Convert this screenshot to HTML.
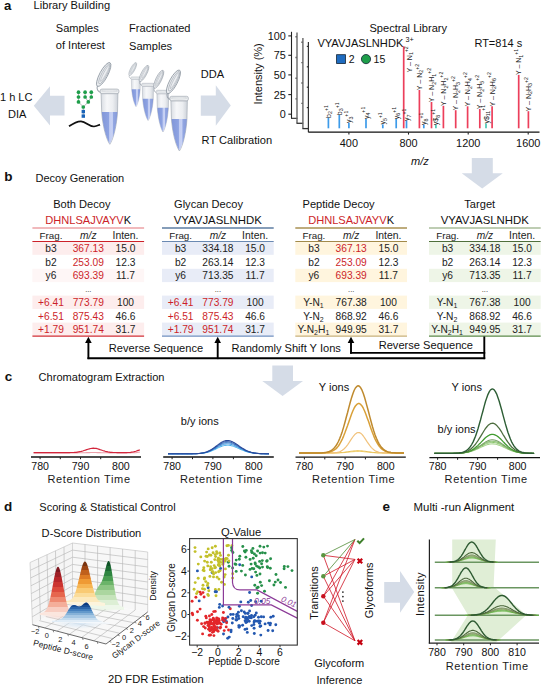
<!DOCTYPE html>
<html><head><meta charset="utf-8"><style>
html,body{margin:0;padding:0;background:#fff;}
svg{display:block;font-family:"Liberation Sans", sans-serif;}
</style></head><body>
<svg width="541" height="685" viewBox="0 0 541 685">
<rect width="541" height="685" fill="#fff"/>
<text x="3.9" y="9.6" font-size="13.2" text-anchor="start" fill="#111" font-weight="bold" font-style="normal" >a</text>
<text x="33.6" y="9.0" font-size="11.1" text-anchor="start" fill="#111" font-weight="normal" font-style="normal" >Library Building</text>
<text x="55.8" y="32.3" font-size="11.05" text-anchor="start" fill="#111" font-weight="normal" font-style="normal" >Samples</text>
<text x="55.8" y="49.4" font-size="11.05" text-anchor="start" fill="#111" font-weight="normal" font-style="normal" >of Interest</text>
<text x="129.1" y="32.3" font-size="11.05" text-anchor="start" fill="#111" font-weight="normal" font-style="normal" >Fractionated</text>
<text x="129.1" y="49.6" font-size="11.05" text-anchor="start" fill="#111" font-weight="normal" font-style="normal" >Samples</text>
<text x="200.8" y="78.0" font-size="11.05" text-anchor="start" fill="#111" font-weight="normal" font-style="normal" >DDA</text>
<text x="201.6" y="144.2" font-size="11.1" text-anchor="start" fill="#111" font-weight="normal" font-style="normal" >RT Calibration</text>
<text x="32.5" y="100.5" font-size="11.05" text-anchor="end" fill="#111" font-weight="normal" font-style="normal" >1 h LC</text>
<text x="26.4" y="117.5" font-size="11.05" text-anchor="end" fill="#111" font-weight="normal" font-style="normal" >DIA</text>
<polygon points="64.5,95.7 50.0,95.7 50.0,86.2 33.8,105.8 50.0,125.5 50.0,115.4 64.5,115.4" fill="#d5dce7" />
<polygon points="200.8,95.5 215.8,95.5 215.8,85.3 230.8,105.5 215.8,125.8 215.8,115.7 200.8,115.7" fill="#d5dce7" />
<line x1="78.5" y1="92.2" x2="78.5" y2="101.9" stroke="#888" stroke-width="0.6" />
<line x1="85.1" y1="92.2" x2="85.1" y2="97.0" stroke="#888" stroke-width="0.6" />
<line x1="91.3" y1="92.2" x2="91.3" y2="97.0" stroke="#888" stroke-width="0.6" />
<line x1="85.1" y1="97.0" x2="88.3" y2="101.9" stroke="#888" stroke-width="0.6" />
<line x1="91.3" y1="97.0" x2="88.3" y2="101.9" stroke="#888" stroke-width="0.6" />
<line x1="78.5" y1="101.9" x2="83.3" y2="107.0" stroke="#888" stroke-width="0.6" />
<line x1="88.3" y1="101.9" x2="83.3" y2="107.0" stroke="#888" stroke-width="0.6" />
<line x1="83.3" y1="107.0" x2="83.3" y2="116.0" stroke="#888" stroke-width="0.6" />
<circle cx="78.5" cy="92.2" r="1.85" fill="#1e9e4a"/>
<circle cx="85.1" cy="92.2" r="1.85" fill="#1e9e4a"/>
<circle cx="91.3" cy="92.2" r="1.85" fill="#1e9e4a"/>
<circle cx="78.5" cy="97.0" r="1.85" fill="#1e9e4a"/>
<circle cx="85.1" cy="97.0" r="1.85" fill="#1e9e4a"/>
<circle cx="91.3" cy="97.0" r="1.85" fill="#1e9e4a"/>
<circle cx="78.5" cy="101.9" r="1.85" fill="#1e9e4a"/>
<circle cx="88.3" cy="101.9" r="1.85" fill="#1e9e4a"/>
<circle cx="83.3" cy="107.0" r="1.85" fill="#1e9e4a"/>
<rect x="81.6" y="109.9" width="3.4" height="3.4" fill="#1a64b8" />
<rect x="81.6" y="114.4" width="3.4" height="3.4" fill="#1a64b8" />
<path d="M69,126.3 C73,123.5 77,121.2 81,121.3 C86,121.5 89,126.6 94,126.5 C96.5,126.4 98.5,125.2 100,124.6" fill="none" stroke="#111" stroke-width="1.7"/>
<defs>
<linearGradient id="tb" x1="0" x2="1" y1="0" y2="0"><stop offset="0" stop-color="#d9dde3"/><stop offset="0.35" stop-color="#f6f7f9"/><stop offset="0.7" stop-color="#eceef1"/><stop offset="1" stop-color="#cdd2d9"/></linearGradient>
<linearGradient id="tl" x1="0" x2="1" y1="0" y2="0"><stop offset="0" stop-color="#8196d8"/><stop offset="0.45" stop-color="#8ea3e2"/><stop offset="0.5" stop-color="#c2cdf3"/><stop offset="0.68" stop-color="#c8d2f4"/><stop offset="0.74" stop-color="#93a7e2"/><stop offset="1" stop-color="#8599d8"/></linearGradient>
<g id="tube">
<path d="M1.2,3.5 C-2.5,2.5 -3.8,0 -2.6,-3.5" fill="none" stroke="#a0a7b0" stroke-width="1.1"/>
<ellipse cx="3.6" cy="-14.6" rx="13.4" ry="4.0" transform="rotate(-62 3.6 -14.6)" fill="#eceef1" stroke="#8f98a2" stroke-width="0.8"/>
<ellipse cx="4.3" cy="-15.2" rx="11.2" ry="2.6" transform="rotate(-62 4.3 -15.2)" fill="none" stroke="#9ea6af" stroke-width="0.6"/>
<ellipse cx="4.9" cy="-15.8" rx="9.2" ry="1.3" transform="rotate(-62 4.9 -15.8)" fill="none" stroke="#a6adb5" stroke-width="0.5"/>
<path d="M1,4.4 L1.6,23 C2.5,36 6,50 9.7,55.2 C13.4,50 16.6,36 17.4,23 L17.8,4.4 Z" fill="url(#tb)" stroke="#a3aab3" stroke-width="0.7"/>
<path d="M1.7,23 L17.3,23 C16.5,36 13.3,49.8 9.7,54.8 C6.1,49.8 2.6,36 1.7,23 Z" fill="url(#tl)"/>
<rect x="0" y="0" width="18.8" height="4.6" rx="1.8" fill="#eef0f2" stroke="#9fa6af" stroke-width="0.7"/>
<ellipse cx="9.4" cy="1.8" rx="8.2" ry="1.0" fill="none" stroke="#c4c9cf" stroke-width="0.5"/>
</g></defs>
<use href="#tube" transform="translate(100.1,89.1) scale(1.0,1.0)"/>
<use href="#tube" transform="translate(130.8,76.9) scale(0.54,0.54)"/>
<use href="#tube" transform="translate(141.6,83.3) scale(0.67,0.675)"/>
<use href="#tube" transform="translate(156.2,90.3) scale(0.7,0.755)"/>
<use href="#tube" transform="translate(169.9,96.3) scale(0.98,0.99)"/>
<line x1="291.5" y1="31.8" x2="291.5" y2="118.3" stroke="#222" stroke-width="1.1" />
<line x1="288.3" y1="35.9" x2="291.5" y2="35.9" stroke="#222" stroke-width="1.1" />
<line x1="288.3" y1="55.3" x2="291.5" y2="55.3" stroke="#222" stroke-width="1.1" />
<line x1="288.3" y1="74.9" x2="291.5" y2="74.9" stroke="#222" stroke-width="1.1" />
<line x1="288.3" y1="94.6" x2="291.5" y2="94.6" stroke="#222" stroke-width="1.1" />
<line x1="288.3" y1="114.2" x2="291.5" y2="114.2" stroke="#222" stroke-width="1.1" />
<line x1="291.0" y1="118.3" x2="297.5" y2="118.3" stroke="#222" stroke-width="1.1" />
<text x="285.7" y="39.8" font-size="10.8" text-anchor="end" fill="#111" font-weight="normal" font-style="normal" >100</text>
<text x="285.7" y="59.2" font-size="10.8" text-anchor="end" fill="#111" font-weight="normal" font-style="normal" >75</text>
<text x="285.7" y="78.8" font-size="10.8" text-anchor="end" fill="#111" font-weight="normal" font-style="normal" >50</text>
<text x="285.7" y="98.5" font-size="10.8" text-anchor="end" fill="#111" font-weight="normal" font-style="normal" >25</text>
<text x="285.7" y="118.1" font-size="10.8" text-anchor="end" fill="#111" font-weight="normal" font-style="normal" >0</text>
<line x1="297.0" y1="32.4" x2="297.0" y2="123.3" stroke="#666" stroke-width="1.4" />
<line x1="295.4" y1="36.8" x2="297.0" y2="36.8" stroke="#666" stroke-width="1.4" />
<line x1="295.4" y1="57.5" x2="297.0" y2="57.5" stroke="#666" stroke-width="1.4" />
<line x1="295.4" y1="78.2" x2="297.0" y2="78.2" stroke="#666" stroke-width="1.4" />
<line x1="295.4" y1="98.9" x2="297.0" y2="98.9" stroke="#666" stroke-width="1.4" />
<line x1="296.5" y1="123.3" x2="303.2" y2="123.3" stroke="#333" stroke-width="1.3" />
<line x1="302.9" y1="37.9" x2="302.9" y2="128.6" stroke="#666" stroke-width="1.4" />
<line x1="301.3" y1="42.2" x2="302.9" y2="42.2" stroke="#666" stroke-width="1.4" />
<line x1="301.3" y1="62.6" x2="302.9" y2="62.6" stroke="#666" stroke-width="1.4" />
<line x1="301.3" y1="83.0" x2="302.9" y2="83.0" stroke="#666" stroke-width="1.4" />
<line x1="301.3" y1="103.4" x2="302.9" y2="103.4" stroke="#666" stroke-width="1.4" />
<line x1="302.4" y1="128.6" x2="308.8" y2="128.6" stroke="#333" stroke-width="1.3" />
<line x1="308.4" y1="42.0" x2="308.4" y2="132.2" stroke="#333" stroke-width="1.2" />
<line x1="306.8" y1="46.4" x2="308.4" y2="46.4" stroke="#333" stroke-width="1.2" />
<line x1="306.8" y1="66.8" x2="308.4" y2="66.8" stroke="#333" stroke-width="1.2" />
<line x1="306.8" y1="87.2" x2="308.4" y2="87.2" stroke="#333" stroke-width="1.2" />
<line x1="306.8" y1="107.6" x2="308.4" y2="107.6" stroke="#333" stroke-width="1.2" />
<line x1="308.4" y1="132.2" x2="539.5" y2="132.2" stroke="#111" stroke-width="1.2" />
<line x1="348.9" y1="132.2" x2="348.9" y2="134.6" stroke="#222" stroke-width="1.1" />
<text x="348.9" y="146.6" font-size="10.9" text-anchor="middle" fill="#111" font-weight="normal" font-style="normal" >400</text>
<line x1="408.5" y1="132.2" x2="408.5" y2="134.6" stroke="#222" stroke-width="1.1" />
<text x="408.5" y="146.6" font-size="10.9" text-anchor="middle" fill="#111" font-weight="normal" font-style="normal" >800</text>
<line x1="468.2" y1="132.2" x2="468.2" y2="134.6" stroke="#222" stroke-width="1.1" />
<text x="468.2" y="146.6" font-size="10.9" text-anchor="middle" fill="#111" font-weight="normal" font-style="normal" >1200</text>
<line x1="528.2" y1="132.2" x2="528.2" y2="134.6" stroke="#222" stroke-width="1.1" />
<text x="528.2" y="146.6" font-size="10.9" text-anchor="middle" fill="#111" font-weight="normal" font-style="normal" >1600</text>
<text x="411.0" y="165.0" font-size="11" text-anchor="start" fill="#111" font-weight="normal" font-style="italic" >m/z</text>
<text x="261.8" y="73.8" font-size="11" text-anchor="middle" fill="#111" font-weight="normal" font-style="normal" transform="rotate(-90 261.8 73.8)">Intensity (%)</text>
<text x="369.4" y="32.3" font-size="11.1" text-anchor="start" fill="#111" font-weight="normal" font-style="normal" >Spectral Library</text>
<text x="317.4" y="47.0" font-size="11.1" text-anchor="start" fill="#111" font-weight="normal" font-style="normal" >VYAVJASLNHDK</text>
<text x="405.5" y="41.5" font-size="7.2" text-anchor="start" fill="#111" font-weight="normal" font-style="normal" >3+</text>
<text x="474.4" y="47.2" font-size="11.0" text-anchor="start" fill="#111" font-weight="normal" font-style="normal" >RT=814 s</text>
<rect x="336.6" y="54.7" width="8.8" height="8.8" fill="#1f6cc0" stroke="#123" stroke-width="0.8"/>
<text x="348.8" y="62.9" font-size="10.5" text-anchor="start" fill="#111" font-weight="normal" font-style="normal" >2</text>
<circle cx="366.0" cy="59.1" r="4.6" fill="#1e9e4a" stroke="#123" stroke-width="0.8"/>
<text x="373.6" y="62.9" font-size="10.5" text-anchor="start" fill="#111" font-weight="normal" font-style="normal" >15</text>
<line x1="328.4" y1="117.7" x2="328.4" y2="128.3" stroke="#3d9be9" stroke-width="1.7" />
<line x1="339.3" y1="115.0" x2="339.3" y2="128.3" stroke="#3d9be9" stroke-width="1.7" />
<line x1="348.9" y1="122.9" x2="348.9" y2="128.3" stroke="#3d9be9" stroke-width="1.7" />
<line x1="366.0" y1="118.9" x2="366.0" y2="128.3" stroke="#3d9be9" stroke-width="1.7" />
<line x1="382.8" y1="124.4" x2="382.8" y2="128.3" stroke="#3d9be9" stroke-width="1.7" />
<line x1="396.2" y1="119.0" x2="396.2" y2="128.3" stroke="#3d9be9" stroke-width="1.7" />
<line x1="406.5" y1="120.7" x2="406.5" y2="128.3" stroke="#3d9be9" stroke-width="1.7" />
<line x1="423.8" y1="124.7" x2="423.8" y2="128.3" stroke="#3d9be9" stroke-width="1.7" />
<line x1="435.9" y1="125.0" x2="435.9" y2="128.3" stroke="#4cc9b6" stroke-width="1.7" />
<line x1="486.0" y1="123.4" x2="486.0" y2="128.3" stroke="#4cc9b6" stroke-width="1.7" />
<line x1="403.7" y1="46.3" x2="403.7" y2="128.3" stroke="#ec3f5b" stroke-width="1.7" />
<line x1="419.4" y1="90.0" x2="419.4" y2="128.3" stroke="#ec3f5b" stroke-width="1.7" />
<line x1="431.5" y1="102.0" x2="431.5" y2="128.3" stroke="#ec3f5b" stroke-width="1.7" />
<line x1="443.4" y1="105.8" x2="443.4" y2="128.3" stroke="#ec3f5b" stroke-width="1.7" />
<line x1="455.7" y1="110.2" x2="455.7" y2="128.3" stroke="#ec3f5b" stroke-width="1.7" />
<line x1="467.6" y1="106.3" x2="467.6" y2="128.3" stroke="#ec3f5b" stroke-width="1.7" />
<line x1="479.8" y1="109.0" x2="479.8" y2="128.3" stroke="#ec3f5b" stroke-width="1.7" />
<line x1="492.1" y1="106.3" x2="492.1" y2="128.3" stroke="#ec3f5b" stroke-width="1.7" />
<line x1="518.7" y1="74.9" x2="518.7" y2="128.3" stroke="#ec3f5b" stroke-width="1.7" />
<line x1="528.4" y1="111.2" x2="528.4" y2="128.3" stroke="#ec3f5b" stroke-width="1.7" />
<text x="331.0" y="117.9" font-size="7" fill="#222" transform="rotate(-90 331.0 117.9)">b<tspan font-size="5.3" dy="1.5">2</tspan><tspan font-size="5.2" dy="-4.7">+1</tspan></text>
<text x="341.9" y="115.2" font-size="7" fill="#222" transform="rotate(-90 341.9 115.2)">b<tspan font-size="5.3" dy="1.5">3</tspan><tspan font-size="5.2" dy="-4.7">+1</tspan></text>
<text x="351.5" y="123.1" font-size="7" fill="#222" transform="rotate(-90 351.5 123.1)">y<tspan font-size="5.3" dy="1.5">3</tspan><tspan font-size="5.2" dy="-4.7">+1</tspan></text>
<text x="368.6" y="119.1" font-size="7" fill="#222" transform="rotate(-90 368.6 119.1)">y<tspan font-size="5.3" dy="1.5">4</tspan><tspan font-size="5.2" dy="-4.7">+1</tspan></text>
<text x="385.4" y="124.6" font-size="7" fill="#222" transform="rotate(-90 385.4 124.6)">y<tspan font-size="5.3" dy="1.5">5</tspan><tspan font-size="5.2" dy="-4.7">+1</tspan></text>
<text x="398.8" y="119.2" font-size="7" fill="#222" transform="rotate(-90 398.8 119.2)">y<tspan font-size="5.3" dy="1.5">6</tspan><tspan font-size="5.2" dy="-4.7">+1</tspan></text>
<text x="409.1" y="120.9" font-size="7" fill="#222" transform="rotate(-90 409.1 120.9)">y<tspan font-size="5.3" dy="1.5">7</tspan><tspan font-size="5.2" dy="-4.7">+1</tspan></text>
<text x="426.4" y="124.9" font-size="7" fill="#222" transform="rotate(-90 426.4 124.9)">y<tspan font-size="5.3" dy="1.5">8</tspan><tspan font-size="5.2" dy="-4.7">+1</tspan></text>
<text x="438.5" y="125.2" font-size="7" fill="#222" transform="rotate(-90 438.5 125.2)">y$<tspan font-size="5.3" dy="1.5">8</tspan><tspan font-size="5.2" dy="-4.7">+1</tspan></text>
<text x="488.6" y="123.6" font-size="7" fill="#222" transform="rotate(-90 488.6 123.6)">y$<tspan font-size="5.3" dy="1.5">11</tspan><tspan font-size="5.2" dy="-4.7">+1</tspan></text>
<text x="411.6" y="72.5" font-size="7" fill="#222" transform="rotate(-90 411.6 72.5)">Y – N<tspan font-size="5.3" dy="1.5">1</tspan><tspan font-size="5.2" dy="-4.7">+2</tspan></text>
<text x="422.0" y="90.2" font-size="7" fill="#222" transform="rotate(-90 422.0 90.2)">Y – N<tspan font-size="5.3" dy="1.5">2</tspan><tspan font-size="5.2" dy="-4.7">+2</tspan></text>
<text x="434.1" y="102.2" font-size="7" fill="#222" transform="rotate(-90 434.1 102.2)">Y – N<tspan font-size="5.3" dy="1.5">2</tspan><tspan dy="-1.5">H</tspan><tspan font-size="5.3" dy="1.5">1</tspan><tspan font-size="5.2" dy="-4.7">+2</tspan></text>
<text x="446.0" y="106.0" font-size="7" fill="#222" transform="rotate(-90 446.0 106.0)">Y – N<tspan font-size="5.3" dy="1.5">2</tspan><tspan dy="-1.5">H</tspan><tspan font-size="5.3" dy="1.5">2</tspan><tspan font-size="5.2" dy="-4.7">+2</tspan></text>
<text x="458.3" y="110.4" font-size="7" fill="#222" transform="rotate(-90 458.3 110.4)">Y – N<tspan font-size="5.3" dy="1.5">2</tspan><tspan dy="-1.5">H</tspan><tspan font-size="5.3" dy="1.5">3</tspan><tspan font-size="5.2" dy="-4.7">+2</tspan></text>
<text x="470.2" y="106.5" font-size="7" fill="#222" transform="rotate(-90 470.2 106.5)">Y – N<tspan font-size="5.3" dy="1.5">2</tspan><tspan dy="-1.5">H</tspan><tspan font-size="5.3" dy="1.5">4</tspan><tspan font-size="5.2" dy="-4.7">+2</tspan></text>
<text x="482.4" y="109.2" font-size="7" fill="#222" transform="rotate(-90 482.4 109.2)">Y – N<tspan font-size="5.3" dy="1.5">2</tspan><tspan dy="-1.5">H</tspan><tspan font-size="5.3" dy="1.5">5</tspan><tspan font-size="5.2" dy="-4.7">+2</tspan></text>
<text x="494.7" y="106.5" font-size="7" fill="#222" transform="rotate(-90 494.7 106.5)">Y – N<tspan font-size="5.3" dy="1.5">2</tspan><tspan dy="-1.5">H</tspan><tspan font-size="5.3" dy="1.5">6</tspan><tspan font-size="5.2" dy="-4.7">+2</tspan></text>
<text x="521.3" y="75.1" font-size="7" fill="#222" transform="rotate(-90 521.3 75.1)">Y – N<tspan font-size="5.3" dy="1.5">1</tspan><tspan font-size="5.2" dy="-4.7">+1</tspan></text>
<text x="531.0" y="111.4" font-size="7" fill="#222" transform="rotate(-90 531.0 111.4)">Y – N<tspan font-size="5.3" dy="1.5">2</tspan><tspan dy="-1.5">H</tspan><tspan font-size="5.3" dy="1.5">3</tspan><tspan font-size="5.2" dy="-4.7">+2</tspan></text>
<polygon points="471.8,158.0 492.8,158.0 492.8,173.3 502.8,173.3 482.2,188.5 461.7,173.3 471.8,173.3" fill="#d5dce7" />
<text x="4.2" y="181.3" font-size="13.5" text-anchor="start" fill="#111" font-weight="bold" font-style="normal" >b</text>
<text x="35.5" y="181.8" font-size="11" text-anchor="start" fill="#111" font-weight="normal" font-style="normal" >Decoy Generation</text>
<text x="53.2" y="208.4" font-size="11.1" text-anchor="start" fill="#111" font-weight="normal" font-style="normal" >Both Decoy</text>
<text x="88.2" y="223.6" font-size="11.1" text-anchor="middle"><tspan fill="#cc1f2a">DHNLSAJVAYV</tspan><tspan fill="#111">K</tspan></text>
<rect x="32.4" y="242.1" width="111.7" height="12.7" fill="#fdeded" />
<rect x="32.4" y="268.8" width="111.7" height="13.3" fill="#fef6f6" />
<rect x="32.4" y="295.6" width="111.7" height="13.3" fill="#fdeded" />
<rect x="32.4" y="322.6" width="111.7" height="13.2" fill="#fdeded" />
<line x1="32.4" y1="228.0" x2="144.1" y2="228.0" stroke="#eca2a6" stroke-width="1.4" />
<line x1="32.4" y1="241.5" x2="144.1" y2="241.5" stroke="#cc2129" stroke-width="1.1" />
<line x1="32.4" y1="336.1" x2="144.1" y2="336.1" stroke="#d22f36" stroke-width="1.2" />
<text x="51.0" y="238.5" font-size="9.8" text-anchor="middle" fill="#222" font-weight="normal" font-style="normal" >Frag.</text>
<text x="88.3" y="238.5" font-size="10.2" text-anchor="middle" fill="#222" font-weight="normal" font-style="italic" >m/z</text>
<text x="125.5" y="238.5" font-size="10.4" text-anchor="middle" fill="#222" font-weight="normal" font-style="normal" >Inten.</text>
<text x="51.0" y="252.0" font-size="10.2" text-anchor="middle" fill="#222" font-weight="normal" font-style="normal" >b3</text>
<text x="88.3" y="252.0" font-size="10.2" text-anchor="middle" fill="#cc1f2a" font-weight="normal" font-style="normal" >367.13</text>
<text x="125.5" y="252.0" font-size="10.2" text-anchor="middle" fill="#222" font-weight="normal" font-style="normal" >15.0</text>
<text x="51.0" y="265.5" font-size="10.2" text-anchor="middle" fill="#222" font-weight="normal" font-style="normal" >b2</text>
<text x="88.3" y="265.5" font-size="10.2" text-anchor="middle" fill="#cc1f2a" font-weight="normal" font-style="normal" >253.09</text>
<text x="125.5" y="265.5" font-size="10.2" text-anchor="middle" fill="#222" font-weight="normal" font-style="normal" >12.3</text>
<text x="51.0" y="279.0" font-size="10.2" text-anchor="middle" fill="#222" font-weight="normal" font-style="normal" >y6</text>
<text x="88.3" y="279.0" font-size="10.2" text-anchor="middle" fill="#cc1f2a" font-weight="normal" font-style="normal" >693.39</text>
<text x="125.5" y="279.0" font-size="10.2" text-anchor="middle" fill="#222" font-weight="normal" font-style="normal" >11.7</text>
<text x="88.3" y="291.6" font-size="7.5" text-anchor="middle" fill="#222" font-weight="normal" font-style="normal" >...</text>
<text x="51.0" y="305.9" font-size="10.2" text-anchor="middle" fill="#cc1f2a" font-weight="normal" font-style="normal" >+6.41</text>
<text x="88.3" y="305.9" font-size="10.2" text-anchor="middle" fill="#cc1f2a" font-weight="normal" font-style="normal" >773.79</text>
<text x="125.5" y="305.9" font-size="10.2" text-anchor="middle" fill="#222" font-weight="normal" font-style="normal" >100</text>
<text x="51.0" y="319.5" font-size="10.2" text-anchor="middle" fill="#cc1f2a" font-weight="normal" font-style="normal" >+6.51</text>
<text x="88.3" y="319.5" font-size="10.2" text-anchor="middle" fill="#cc1f2a" font-weight="normal" font-style="normal" >875.43</text>
<text x="125.5" y="319.5" font-size="10.2" text-anchor="middle" fill="#222" font-weight="normal" font-style="normal" >46.6</text>
<text x="51.0" y="333.1" font-size="10.2" text-anchor="middle" fill="#cc1f2a" font-weight="normal" font-style="normal" >+1.79</text>
<text x="88.3" y="333.1" font-size="10.2" text-anchor="middle" fill="#cc1f2a" font-weight="normal" font-style="normal" >951.74</text>
<text x="125.5" y="333.1" font-size="10.2" text-anchor="middle" fill="#222" font-weight="normal" font-style="normal" >31.7</text>
<text x="174.0" y="208.4" font-size="11.1" text-anchor="start" fill="#111" font-weight="normal" font-style="normal" >Glycan Decoy</text>
<text x="217.8" y="223.5" font-size="11.4" text-anchor="middle" fill="#111" font-weight="normal" font-style="normal" >VYAVJASLNHDK</text>
<rect x="162.0" y="242.1" width="111.7" height="12.7" fill="#e8ecf7" />
<rect x="162.0" y="268.8" width="111.7" height="13.3" fill="#e8ecf7" />
<rect x="162.0" y="295.6" width="111.7" height="13.3" fill="#e8ecf7" />
<rect x="162.0" y="322.6" width="111.7" height="13.2" fill="#e8ecf7" />
<line x1="162.0" y1="228.0" x2="273.7" y2="228.0" stroke="#5d7ca2" stroke-width="1.4" />
<line x1="162.0" y1="241.5" x2="273.7" y2="241.5" stroke="#6a89b2" stroke-width="1.1" />
<line x1="162.0" y1="336.1" x2="273.7" y2="336.1" stroke="#6f8fbf" stroke-width="1.2" />
<text x="180.6" y="238.5" font-size="9.8" text-anchor="middle" fill="#222" font-weight="normal" font-style="normal" >Frag.</text>
<text x="217.9" y="238.5" font-size="10.2" text-anchor="middle" fill="#222" font-weight="normal" font-style="italic" >m/z</text>
<text x="255.1" y="238.5" font-size="10.4" text-anchor="middle" fill="#222" font-weight="normal" font-style="normal" >Inten.</text>
<text x="180.6" y="252.0" font-size="10.2" text-anchor="middle" fill="#222" font-weight="normal" font-style="normal" >b3</text>
<text x="217.9" y="252.0" font-size="10.2" text-anchor="middle" fill="#222" font-weight="normal" font-style="normal" >334.18</text>
<text x="255.1" y="252.0" font-size="10.2" text-anchor="middle" fill="#222" font-weight="normal" font-style="normal" >15.0</text>
<text x="180.6" y="265.5" font-size="10.2" text-anchor="middle" fill="#222" font-weight="normal" font-style="normal" >b2</text>
<text x="217.9" y="265.5" font-size="10.2" text-anchor="middle" fill="#222" font-weight="normal" font-style="normal" >263.14</text>
<text x="255.1" y="265.5" font-size="10.2" text-anchor="middle" fill="#222" font-weight="normal" font-style="normal" >12.3</text>
<text x="180.6" y="279.0" font-size="10.2" text-anchor="middle" fill="#222" font-weight="normal" font-style="normal" >y6</text>
<text x="217.9" y="279.0" font-size="10.2" text-anchor="middle" fill="#222" font-weight="normal" font-style="normal" >713.35</text>
<text x="255.1" y="279.0" font-size="10.2" text-anchor="middle" fill="#222" font-weight="normal" font-style="normal" >11.7</text>
<text x="217.9" y="291.6" font-size="7.5" text-anchor="middle" fill="#222" font-weight="normal" font-style="normal" >...</text>
<text x="180.6" y="305.9" font-size="10.2" text-anchor="middle" fill="#cc1f2a" font-weight="normal" font-style="normal" >+6.41</text>
<text x="217.9" y="305.9" font-size="10.2" text-anchor="middle" fill="#cc1f2a" font-weight="normal" font-style="normal" >773.79</text>
<text x="255.1" y="305.9" font-size="10.2" text-anchor="middle" fill="#222" font-weight="normal" font-style="normal" >100</text>
<text x="180.6" y="319.5" font-size="10.2" text-anchor="middle" fill="#cc1f2a" font-weight="normal" font-style="normal" >+6.51</text>
<text x="217.9" y="319.5" font-size="10.2" text-anchor="middle" fill="#cc1f2a" font-weight="normal" font-style="normal" >875.43</text>
<text x="255.1" y="319.5" font-size="10.2" text-anchor="middle" fill="#222" font-weight="normal" font-style="normal" >46.6</text>
<text x="180.6" y="333.1" font-size="10.2" text-anchor="middle" fill="#cc1f2a" font-weight="normal" font-style="normal" >+1.79</text>
<text x="217.9" y="333.1" font-size="10.2" text-anchor="middle" fill="#cc1f2a" font-weight="normal" font-style="normal" >951.74</text>
<text x="255.1" y="333.1" font-size="10.2" text-anchor="middle" fill="#222" font-weight="normal" font-style="normal" >31.7</text>
<text x="302.5" y="208.4" font-size="11.1" text-anchor="start" fill="#111" font-weight="normal" font-style="normal" >Peptide Decoy</text>
<text x="351.1" y="223.6" font-size="11.1" text-anchor="middle"><tspan fill="#cc1f2a">DHNLSAJVAYV</tspan><tspan fill="#111">K</tspan></text>
<rect x="295.3" y="242.1" width="111.7" height="12.7" fill="#fff5de" />
<rect x="295.3" y="268.8" width="111.7" height="13.3" fill="#fff5de" />
<rect x="295.3" y="295.6" width="111.7" height="13.3" fill="#fff5de" />
<rect x="295.3" y="322.6" width="111.7" height="13.2" fill="#fff5de" />
<line x1="295.3" y1="228.0" x2="407.0" y2="228.0" stroke="#a99152" stroke-width="1.4" />
<line x1="295.3" y1="241.5" x2="407.0" y2="241.5" stroke="#a28a4a" stroke-width="1.1" />
<line x1="295.3" y1="336.1" x2="407.0" y2="336.1" stroke="#c9b179" stroke-width="1.2" />
<text x="313.9" y="238.5" font-size="9.8" text-anchor="middle" fill="#222" font-weight="normal" font-style="normal" >Frag.</text>
<text x="351.2" y="238.5" font-size="10.2" text-anchor="middle" fill="#222" font-weight="normal" font-style="italic" >m/z</text>
<text x="388.4" y="238.5" font-size="10.4" text-anchor="middle" fill="#222" font-weight="normal" font-style="normal" >Inten.</text>
<text x="313.9" y="252.0" font-size="10.2" text-anchor="middle" fill="#222" font-weight="normal" font-style="normal" >b3</text>
<text x="351.2" y="252.0" font-size="10.2" text-anchor="middle" fill="#cc1f2a" font-weight="normal" font-style="normal" >367.13</text>
<text x="388.4" y="252.0" font-size="10.2" text-anchor="middle" fill="#222" font-weight="normal" font-style="normal" >15.0</text>
<text x="313.9" y="265.5" font-size="10.2" text-anchor="middle" fill="#222" font-weight="normal" font-style="normal" >b2</text>
<text x="351.2" y="265.5" font-size="10.2" text-anchor="middle" fill="#cc1f2a" font-weight="normal" font-style="normal" >253.09</text>
<text x="388.4" y="265.5" font-size="10.2" text-anchor="middle" fill="#222" font-weight="normal" font-style="normal" >12.3</text>
<text x="313.9" y="279.0" font-size="10.2" text-anchor="middle" fill="#222" font-weight="normal" font-style="normal" >y6</text>
<text x="351.2" y="279.0" font-size="10.2" text-anchor="middle" fill="#cc1f2a" font-weight="normal" font-style="normal" >693.39</text>
<text x="388.4" y="279.0" font-size="10.2" text-anchor="middle" fill="#222" font-weight="normal" font-style="normal" >11.7</text>
<text x="351.2" y="291.6" font-size="7.5" text-anchor="middle" fill="#222" font-weight="normal" font-style="normal" >...</text>
<text x="313.4" y="305.9" font-size="10.2" text-anchor="middle" fill="#222" font-weight="normal" font-style="normal" >Y-N<tspan font-size="7" dy="2">1</tspan></text>
<text x="351.2" y="305.9" font-size="10.2" text-anchor="middle" fill="#222" font-weight="normal" font-style="normal" >767.38</text>
<text x="388.4" y="305.9" font-size="10.2" text-anchor="middle" fill="#222" font-weight="normal" font-style="normal" >100</text>
<text x="313.4" y="319.5" font-size="10.2" text-anchor="middle" fill="#222" font-weight="normal" font-style="normal" >Y-N<tspan font-size="7" dy="2">2</tspan></text>
<text x="351.2" y="319.5" font-size="10.2" text-anchor="middle" fill="#222" font-weight="normal" font-style="normal" >868.92</text>
<text x="388.4" y="319.5" font-size="10.2" text-anchor="middle" fill="#222" font-weight="normal" font-style="normal" >46.6</text>
<text x="313.4" y="333.1" font-size="10.2" text-anchor="middle" fill="#222" font-weight="normal" font-style="normal" >Y-N<tspan font-size="7" dy="2">2</tspan><tspan dy="-2">H</tspan><tspan font-size="7" dy="2">1</tspan></text>
<text x="351.2" y="333.1" font-size="10.2" text-anchor="middle" fill="#222" font-weight="normal" font-style="normal" >949.95</text>
<text x="388.4" y="333.1" font-size="10.2" text-anchor="middle" fill="#222" font-weight="normal" font-style="normal" >31.7</text>
<text x="464.3" y="208.4" font-size="11.1" text-anchor="start" fill="#111" font-weight="normal" font-style="normal" >Target</text>
<text x="484.8" y="223.5" font-size="11.4" text-anchor="middle" fill="#111" font-weight="normal" font-style="normal" >VYAVJASLNHDK</text>
<rect x="429.0" y="242.1" width="111.7" height="12.7" fill="#eef5e7" />
<rect x="429.0" y="268.8" width="111.7" height="13.3" fill="#eef5e7" />
<rect x="429.0" y="295.6" width="111.7" height="13.3" fill="#eef5e7" />
<rect x="429.0" y="322.6" width="111.7" height="13.2" fill="#eef5e7" />
<line x1="429.0" y1="228.0" x2="540.7" y2="228.0" stroke="#a9bd9a" stroke-width="1.4" />
<line x1="429.0" y1="241.5" x2="540.7" y2="241.5" stroke="#4f6f3b" stroke-width="1.1" />
<line x1="429.0" y1="336.1" x2="540.7" y2="336.1" stroke="#5b8a49" stroke-width="1.2" />
<text x="447.6" y="238.5" font-size="9.8" text-anchor="middle" fill="#222" font-weight="normal" font-style="normal" >Frag.</text>
<text x="484.9" y="238.5" font-size="10.2" text-anchor="middle" fill="#222" font-weight="normal" font-style="italic" >m/z</text>
<text x="522.1" y="238.5" font-size="10.4" text-anchor="middle" fill="#222" font-weight="normal" font-style="normal" >Inten.</text>
<text x="447.6" y="252.0" font-size="10.2" text-anchor="middle" fill="#222" font-weight="normal" font-style="normal" >b3</text>
<text x="484.9" y="252.0" font-size="10.2" text-anchor="middle" fill="#222" font-weight="normal" font-style="normal" >334.18</text>
<text x="522.1" y="252.0" font-size="10.2" text-anchor="middle" fill="#222" font-weight="normal" font-style="normal" >15.0</text>
<text x="447.6" y="265.5" font-size="10.2" text-anchor="middle" fill="#222" font-weight="normal" font-style="normal" >b2</text>
<text x="484.9" y="265.5" font-size="10.2" text-anchor="middle" fill="#222" font-weight="normal" font-style="normal" >263.14</text>
<text x="522.1" y="265.5" font-size="10.2" text-anchor="middle" fill="#222" font-weight="normal" font-style="normal" >12.3</text>
<text x="447.6" y="279.0" font-size="10.2" text-anchor="middle" fill="#222" font-weight="normal" font-style="normal" >y6</text>
<text x="484.9" y="279.0" font-size="10.2" text-anchor="middle" fill="#222" font-weight="normal" font-style="normal" >713.35</text>
<text x="522.1" y="279.0" font-size="10.2" text-anchor="middle" fill="#222" font-weight="normal" font-style="normal" >11.7</text>
<text x="484.9" y="291.6" font-size="7.5" text-anchor="middle" fill="#222" font-weight="normal" font-style="normal" >...</text>
<text x="447.1" y="305.9" font-size="10.2" text-anchor="middle" fill="#222" font-weight="normal" font-style="normal" >Y-N<tspan font-size="7" dy="2">1</tspan></text>
<text x="484.9" y="305.9" font-size="10.2" text-anchor="middle" fill="#222" font-weight="normal" font-style="normal" >767.38</text>
<text x="522.1" y="305.9" font-size="10.2" text-anchor="middle" fill="#222" font-weight="normal" font-style="normal" >100</text>
<text x="447.1" y="319.5" font-size="10.2" text-anchor="middle" fill="#222" font-weight="normal" font-style="normal" >Y-N<tspan font-size="7" dy="2">2</tspan></text>
<text x="484.9" y="319.5" font-size="10.2" text-anchor="middle" fill="#222" font-weight="normal" font-style="normal" >868.92</text>
<text x="522.1" y="319.5" font-size="10.2" text-anchor="middle" fill="#222" font-weight="normal" font-style="normal" >46.6</text>
<text x="447.1" y="333.1" font-size="10.2" text-anchor="middle" fill="#222" font-weight="normal" font-style="normal" >Y-N<tspan font-size="7" dy="2">2</tspan><tspan dy="-2">H</tspan><tspan font-size="7" dy="2">1</tspan></text>
<text x="484.9" y="333.1" font-size="10.2" text-anchor="middle" fill="#222" font-weight="normal" font-style="normal" >949.95</text>
<text x="522.1" y="333.1" font-size="10.2" text-anchor="middle" fill="#222" font-weight="normal" font-style="normal" >31.7</text>
<polygon points="88.4,336.8 85.1,343.1 91.7,343.1" fill="#000" />
<line x1="88.4" y1="341.8" x2="88.4" y2="359.1" stroke="#000" stroke-width="1.9" />
<polygon points="217.7,336.8 214.4,343.1 221.0,343.1" fill="#000" />
<line x1="217.7" y1="341.8" x2="217.7" y2="359.1" stroke="#000" stroke-width="1.9" />
<polygon points="351.0,336.8 347.7,343.1 354.3,343.1" fill="#000" />
<line x1="351.0" y1="341.8" x2="351.0" y2="353.8" stroke="#000" stroke-width="1.9" />
<line x1="87.5" y1="358.2" x2="485.2" y2="358.2" stroke="#000" stroke-width="1.9" />
<line x1="350.1" y1="352.9" x2="485.2" y2="352.9" stroke="#000" stroke-width="1.9" />
<line x1="484.3" y1="336.5" x2="484.3" y2="359.1" stroke="#000" stroke-width="1.9" />
<text x="108.8" y="352.3" font-size="11.1" text-anchor="start" fill="#111" font-weight="normal" font-style="normal" >Reverse Sequence</text>
<text x="231.5" y="352.3" font-size="11.1" text-anchor="start" fill="#111" font-weight="normal" font-style="normal" >Randomly Shift Y Ions</text>
<text x="378.7" y="349.0" font-size="11.1" text-anchor="start" fill="#111" font-weight="normal" font-style="normal" >Reverse Sequence</text>
<polygon points="272.3,365.6 293.0,365.6 293.0,380.9 303.0,380.9 282.6,396.1 262.3,380.9 272.3,380.9" fill="#d5dce7" />
<text x="4.7" y="381.2" font-size="13.5" text-anchor="start" fill="#111" font-weight="bold" font-style="normal" >c</text>
<text x="38.6" y="381.2" font-size="11.05" text-anchor="start" fill="#111" font-weight="normal" font-style="normal" >Chromatogram Extraction</text>
<line x1="31.0" y1="457.0" x2="141.0" y2="457.0" stroke="#111" stroke-width="1.3" />
<line x1="40.1" y1="457.0" x2="40.1" y2="459.2" stroke="#222" stroke-width="1.0" />
<line x1="60.3" y1="457.0" x2="60.3" y2="459.2" stroke="#222" stroke-width="1.0" />
<line x1="80.5" y1="457.0" x2="80.5" y2="459.2" stroke="#222" stroke-width="1.0" />
<line x1="100.7" y1="457.0" x2="100.7" y2="459.2" stroke="#222" stroke-width="1.0" />
<text x="40.1" y="470.2" font-size="10.6" text-anchor="middle" fill="#111" font-weight="normal" font-style="normal" >780</text>
<text x="80.5" y="470.2" font-size="10.6" text-anchor="middle" fill="#111" font-weight="normal" font-style="normal" >790</text>
<text x="120.9" y="470.2" font-size="10.6" text-anchor="middle" fill="#111" font-weight="normal" font-style="normal" >800</text>
<text x="89.1" y="483.4" font-size="11.0" text-anchor="middle" fill="#1a1a1a" font-weight="normal" font-style="normal" letter-spacing="0.66">Retention Time</text>
<path d="M33.6,452.9 L34.9,452.9 L36.3,452.9 L37.6,452.9 L38.9,452.9 L40.2,452.9 L41.6,452.9 L42.9,452.9 L44.2,452.9 L45.5,452.9 L46.9,452.9 L48.2,452.9 L49.5,452.9 L50.9,452.9 L52.2,452.9 L53.5,452.9 L54.8,452.9 L56.2,452.9 L57.5,452.9 L58.8,452.9 L60.2,452.9 L61.5,452.9 L62.8,452.9 L64.1,452.9 L65.5,452.9 L66.8,452.9 L68.1,452.9 L69.4,452.9 L70.8,452.9 L72.1,452.9 L73.4,452.9 L74.8,452.9 L76.1,452.9 L77.4,452.9 L78.7,452.8 L80.1,452.8 L81.4,452.8 L82.7,452.8 L84.0,452.7 L85.4,452.7 L86.7,452.6 L88.0,452.6 L89.4,452.6 L90.7,452.5 L92.0,452.5 L93.3,452.5 L94.7,452.5 L96.0,452.5 L97.3,452.6 L98.6,452.6 L100.0,452.6 L101.3,452.7 L102.6,452.7 L104.0,452.8 L105.3,452.8 L106.6,452.8 L107.9,452.8 L109.3,452.9 L110.6,452.9 L111.9,452.9 L113.2,452.9 L114.6,452.9 L115.9,452.9 L117.2,452.9 L118.6,452.9 L119.9,452.9 L121.2,452.9 L122.5,452.9 L123.9,452.9 L125.2,452.9 L126.5,452.9 L127.9,452.9 L129.2,452.9 L130.5,452.9 L131.8,452.8 L133.2,452.8 L134.5,452.7 L135.8,452.6 L137.1,452.4 L138.5,452.2 L139.8,452.1" fill="none" stroke="#eca0aa" stroke-width="1.1" opacity="1" stroke-linejoin="round"/>
<path d="M33.6,452.6 L34.9,452.6 L36.3,452.6 L37.6,452.6 L38.9,452.6 L40.2,452.6 L41.6,452.6 L42.9,452.6 L44.2,452.6 L45.5,452.6 L46.9,452.6 L48.2,452.6 L49.5,452.6 L50.9,452.6 L52.2,452.6 L53.5,452.6 L54.8,452.6 L56.2,452.6 L57.5,452.6 L58.8,452.6 L60.2,452.6 L61.5,452.6 L62.8,452.6 L64.1,452.6 L65.5,452.6 L66.8,452.6 L68.1,452.6 L69.4,452.6 L70.8,452.5 L72.1,452.5 L73.4,452.5 L74.8,452.4 L76.1,452.3 L77.4,452.1 L78.7,451.9 L80.1,451.7 L81.4,451.3 L82.7,451.0 L84.0,450.5 L85.4,450.1 L86.7,449.6 L88.0,449.2 L89.4,448.8 L90.7,448.5 L92.0,448.3 L93.3,448.2 L94.7,448.3 L96.0,448.4 L97.3,448.7 L98.6,449.1 L100.0,449.6 L101.3,450.0 L102.6,450.5 L104.0,450.9 L105.3,451.3 L106.6,451.6 L107.9,451.9 L109.3,452.1 L110.6,452.3 L111.9,452.4 L113.2,452.5 L114.6,452.5 L115.9,452.5 L117.2,452.6 L118.6,452.6 L119.9,452.6 L121.2,452.6 L122.5,452.6 L123.9,452.6 L125.2,452.6 L126.5,452.6 L127.9,452.5 L129.2,452.5 L130.5,452.4 L131.8,452.2 L133.2,452.0 L134.5,451.6 L135.8,451.2 L137.1,450.7 L138.5,450.3 L139.8,449.9" fill="none" stroke="#d3263c" stroke-width="1.2" opacity="1" stroke-linejoin="round"/>
<line x1="163.2" y1="457.0" x2="273.8" y2="457.0" stroke="#111" stroke-width="1.3" />
<line x1="172.1" y1="457.0" x2="172.1" y2="459.2" stroke="#222" stroke-width="1.0" />
<line x1="192.5" y1="457.0" x2="192.5" y2="459.2" stroke="#222" stroke-width="1.0" />
<line x1="212.9" y1="457.0" x2="212.9" y2="459.2" stroke="#222" stroke-width="1.0" />
<line x1="233.4" y1="457.0" x2="233.4" y2="459.2" stroke="#222" stroke-width="1.0" />
<text x="172.1" y="470.2" font-size="10.6" text-anchor="middle" fill="#111" font-weight="normal" font-style="normal" >780</text>
<text x="212.9" y="470.2" font-size="10.6" text-anchor="middle" fill="#111" font-weight="normal" font-style="normal" >790</text>
<text x="253.8" y="470.2" font-size="10.6" text-anchor="middle" fill="#111" font-weight="normal" font-style="normal" >800</text>
<text x="221.5" y="483.4" font-size="11.0" text-anchor="middle" fill="#1a1a1a" font-weight="normal" font-style="normal" letter-spacing="0.66">Retention Time</text>
<path d="M168.0,453.8 L169.3,453.8 L170.5,453.8 L171.8,453.8 L173.1,453.8 L174.3,453.8 L175.6,453.8 L176.8,453.8 L178.1,453.8 L179.4,453.8 L180.6,453.8 L181.9,453.8 L183.2,453.8 L184.4,453.8 L185.7,453.8 L186.9,453.8 L188.2,453.8 L189.5,453.8 L190.7,453.8 L192.0,453.8 L193.2,453.8 L194.5,453.7 L195.8,453.7 L197.0,453.7 L198.3,453.6 L199.6,453.5 L200.8,453.4 L202.1,453.3 L203.3,453.2 L204.6,453.0 L205.9,452.7 L207.1,452.4 L208.4,452.1 L209.7,451.7 L210.9,451.2 L212.2,450.7 L213.4,450.2 L214.7,449.6 L216.0,449.0 L217.2,448.3 L218.5,447.7 L219.8,447.1 L221.0,446.6 L222.3,446.1 L223.6,445.7 L224.8,445.4 L226.1,445.3 L227.3,445.2 L228.6,445.3 L229.9,445.4 L231.1,445.7 L232.4,446.0 L233.7,446.4 L234.9,446.9 L236.2,447.4 L237.4,448.0 L238.7,448.6 L240.0,449.1 L241.2,449.7 L242.5,450.2 L243.8,450.7 L245.0,451.2 L246.3,451.6 L247.5,452.0 L248.8,452.3 L250.1,452.6 L251.3,452.8 L252.6,453.0 L253.8,453.2 L255.1,453.3 L256.4,453.5 L257.6,453.5 L258.9,453.6 L260.2,453.7 L261.4,453.7 L262.7,453.7 L263.9,453.7 L265.2,453.8 L266.5,453.8 L267.7,453.8 L269.0,453.8" fill="none" stroke="#45b0ec" stroke-width="1.0" opacity="1" stroke-linejoin="round"/>
<path d="M168.0,453.8 L169.3,453.8 L170.5,453.8 L171.8,453.8 L173.1,453.8 L174.3,453.8 L175.6,453.8 L176.8,453.8 L178.1,453.8 L179.4,453.8 L180.6,453.8 L181.9,453.8 L183.2,453.8 L184.4,453.8 L185.7,453.8 L186.9,453.8 L188.2,453.8 L189.5,453.8 L190.7,453.8 L192.0,453.8 L193.2,453.7 L194.5,453.7 L195.8,453.7 L197.0,453.6 L198.3,453.6 L199.6,453.5 L200.8,453.4 L202.1,453.2 L203.3,453.0 L204.6,452.8 L205.9,452.5 L207.1,452.2 L208.4,451.8 L209.7,451.3 L210.9,450.8 L212.2,450.2 L213.4,449.6 L214.7,448.9 L216.0,448.2 L217.2,447.5 L218.5,446.7 L219.8,446.0 L221.0,445.4 L222.3,444.9 L223.6,444.4 L224.8,444.1 L226.1,443.9 L227.3,443.8 L228.6,443.9 L229.9,444.1 L231.1,444.4 L232.4,444.8 L233.7,445.2 L234.9,445.8 L236.2,446.4 L237.4,447.0 L238.7,447.7 L240.0,448.4 L241.2,449.0 L242.5,449.6 L243.8,450.2 L245.0,450.8 L246.3,451.3 L247.5,451.7 L248.8,452.1 L250.1,452.4 L251.3,452.7 L252.6,452.9 L253.8,453.1 L255.1,453.3 L256.4,453.4 L257.6,453.5 L258.9,453.6 L260.2,453.6 L261.4,453.7 L262.7,453.7 L263.9,453.7 L265.2,453.8 L266.5,453.8 L267.7,453.8 L269.0,453.8" fill="none" stroke="#3a94de" stroke-width="1.0" opacity="1" stroke-linejoin="round"/>
<path d="M168.0,453.8 L169.3,453.8 L170.5,453.8 L171.8,453.8 L173.1,453.8 L174.3,453.8 L175.6,453.8 L176.8,453.8 L178.1,453.8 L179.4,453.8 L180.6,453.8 L181.9,453.8 L183.2,453.8 L184.4,453.8 L185.7,453.8 L186.9,453.8 L188.2,453.8 L189.5,453.8 L190.7,453.8 L192.0,453.8 L193.2,453.7 L194.5,453.7 L195.8,453.7 L197.0,453.6 L198.3,453.5 L199.6,453.5 L200.8,453.3 L202.1,453.2 L203.3,453.0 L204.6,452.7 L205.9,452.4 L207.1,452.0 L208.4,451.6 L209.7,451.0 L210.9,450.5 L212.2,449.8 L213.4,449.1 L214.7,448.3 L216.0,447.5 L217.2,446.7 L218.5,445.9 L219.8,445.1 L221.0,444.4 L222.3,443.8 L223.6,443.3 L224.8,442.9 L226.1,442.7 L227.3,442.6 L228.6,442.7 L229.9,442.9 L231.1,443.2 L232.4,443.7 L233.7,444.2 L234.9,444.8 L236.2,445.5 L237.4,446.2 L238.7,447.0 L240.0,447.7 L241.2,448.4 L242.5,449.1 L243.8,449.8 L245.0,450.4 L246.3,451.0 L247.5,451.4 L248.8,451.9 L250.1,452.2 L251.3,452.5 L252.6,452.8 L253.8,453.0 L255.1,453.2 L256.4,453.3 L257.6,453.5 L258.9,453.5 L260.2,453.6 L261.4,453.7 L262.7,453.7 L263.9,453.7 L265.2,453.8 L266.5,453.8 L267.7,453.8 L269.0,453.8" fill="none" stroke="#2f78c8" stroke-width="1.0" opacity="1" stroke-linejoin="round"/>
<path d="M168.0,453.8 L169.3,453.8 L170.5,453.8 L171.8,453.8 L173.1,453.8 L174.3,453.8 L175.6,453.8 L176.8,453.8 L178.1,453.8 L179.4,453.8 L180.6,453.8 L181.9,453.8 L183.2,453.8 L184.4,453.8 L185.7,453.8 L186.9,453.8 L188.2,453.8 L189.5,453.8 L190.7,453.8 L192.0,453.8 L193.2,453.7 L194.5,453.7 L195.8,453.7 L197.0,453.6 L198.3,453.5 L199.6,453.4 L200.8,453.3 L202.1,453.1 L203.3,452.9 L204.6,452.6 L205.9,452.3 L207.1,451.9 L208.4,451.4 L209.7,450.8 L210.9,450.2 L212.2,449.4 L213.4,448.7 L214.7,447.8 L216.0,446.9 L217.2,446.1 L218.5,445.2 L219.8,444.3 L221.0,443.6 L222.3,442.9 L223.6,442.3 L224.8,441.9 L226.1,441.7 L227.3,441.6 L228.6,441.7 L229.9,441.9 L231.1,442.3 L232.4,442.8 L233.7,443.4 L234.9,444.0 L236.2,444.8 L237.4,445.6 L238.7,446.4 L240.0,447.2 L241.2,448.0 L242.5,448.7 L243.8,449.4 L245.0,450.1 L246.3,450.7 L247.5,451.2 L248.8,451.7 L250.1,452.1 L251.3,452.4 L252.6,452.7 L253.8,453.0 L255.1,453.2 L256.4,453.3 L257.6,453.4 L258.9,453.5 L260.2,453.6 L261.4,453.7 L262.7,453.7 L263.9,453.7 L265.2,453.7 L266.5,453.8 L267.7,453.8 L269.0,453.8" fill="none" stroke="#2b5cb0" stroke-width="1.0" opacity="1" stroke-linejoin="round"/>
<path d="M168.0,453.8 L169.3,453.8 L170.5,453.8 L171.8,453.8 L173.1,453.8 L174.3,453.8 L175.6,453.8 L176.8,453.8 L178.1,453.8 L179.4,453.8 L180.6,453.8 L181.9,453.8 L183.2,453.8 L184.4,453.8 L185.7,453.8 L186.9,453.8 L188.2,453.8 L189.5,453.8 L190.7,453.8 L192.0,453.8 L193.2,453.7 L194.5,453.7 L195.8,453.7 L197.0,453.6 L198.3,453.5 L199.6,453.4 L200.8,453.2 L202.1,453.0 L203.3,452.8 L204.6,452.5 L205.9,452.1 L207.1,451.7 L208.4,451.1 L209.7,450.5 L210.9,449.8 L212.2,449.0 L213.4,448.2 L214.7,447.3 L216.0,446.3 L217.2,445.4 L218.5,444.4 L219.8,443.5 L221.0,442.6 L222.3,441.9 L223.6,441.3 L224.8,440.9 L226.1,440.6 L227.3,440.5 L228.6,440.6 L229.9,440.8 L231.1,441.2 L232.4,441.8 L233.7,442.4 L234.9,443.1 L236.2,444.0 L237.4,444.8 L238.7,445.7 L240.0,446.6 L241.2,447.4 L242.5,448.3 L243.8,449.0 L245.0,449.8 L246.3,450.4 L247.5,451.0 L248.8,451.5 L250.1,451.9 L251.3,452.3 L252.6,452.6 L253.8,452.9 L255.1,453.1 L256.4,453.3 L257.6,453.4 L258.9,453.5 L260.2,453.6 L261.4,453.6 L262.7,453.7 L263.9,453.7 L265.2,453.7 L266.5,453.8 L267.7,453.8 L269.0,453.8" fill="none" stroke="#2a4a9a" stroke-width="1.1" opacity="1" stroke-linejoin="round"/>
<line x1="295.5" y1="457.2" x2="405.8" y2="457.2" stroke="#111" stroke-width="1.3" />
<line x1="304.4" y1="457.2" x2="304.4" y2="459.4" stroke="#222" stroke-width="1.0" />
<line x1="324.8" y1="457.2" x2="324.8" y2="459.4" stroke="#222" stroke-width="1.0" />
<line x1="345.1" y1="457.2" x2="345.1" y2="459.4" stroke="#222" stroke-width="1.0" />
<line x1="365.4" y1="457.2" x2="365.4" y2="459.4" stroke="#222" stroke-width="1.0" />
<text x="304.4" y="470.2" font-size="10.6" text-anchor="middle" fill="#111" font-weight="normal" font-style="normal" >780</text>
<text x="345.1" y="470.2" font-size="10.6" text-anchor="middle" fill="#111" font-weight="normal" font-style="normal" >790</text>
<text x="385.8" y="470.2" font-size="10.6" text-anchor="middle" fill="#111" font-weight="normal" font-style="normal" >800</text>
<text x="353.7" y="483.4" font-size="11.0" text-anchor="middle" fill="#1a1a1a" font-weight="normal" font-style="normal" letter-spacing="0.66">Retention Time</text>
<path d="M299.0,453.0 L300.3,453.0 L301.6,453.0 L302.9,453.0 L304.2,453.0 L305.6,453.0 L306.9,453.0 L308.2,453.0 L309.5,453.0 L310.8,453.0 L312.1,453.0 L313.4,453.0 L314.8,453.0 L316.1,453.0 L317.4,453.0 L318.7,453.0 L320.0,453.0 L321.3,453.0 L322.6,453.0 L323.9,453.0 L325.2,453.0 L326.6,453.0 L327.9,453.0 L329.2,453.0 L330.5,453.0 L331.8,453.0 L333.1,453.0 L334.4,452.9 L335.8,452.9 L337.1,452.9 L338.4,452.9 L339.7,452.8 L341.0,452.7 L342.3,452.7 L343.6,452.6 L344.9,452.5 L346.2,452.3 L347.6,452.2 L348.9,452.1 L350.2,451.9 L351.5,451.8 L352.8,451.7 L354.1,451.6 L355.4,451.5 L356.8,451.4 L358.1,451.4 L359.4,451.4 L360.7,451.5 L362.0,451.5 L363.3,451.6 L364.6,451.8 L365.9,451.9 L367.2,452.0 L368.6,452.2 L369.9,452.3 L371.2,452.4 L372.5,452.6 L373.8,452.6 L375.1,452.7 L376.4,452.8 L377.8,452.9 L379.1,452.9 L380.4,452.9 L381.7,452.9 L383.0,453.0 L384.3,453.0 L385.6,453.0 L386.9,453.0 L388.2,453.0 L389.6,453.0 L390.9,453.0 L392.2,453.0 L393.5,453.0 L394.8,453.0 L396.1,453.0 L397.4,453.0 L398.8,453.0 L400.1,453.0 L401.4,453.0 L402.7,453.0 L404.0,453.0" fill="none" stroke="#f3d36a" stroke-width="1.0" opacity="1" stroke-linejoin="round"/>
<path d="M299.0,453.0 L300.3,453.0 L301.6,453.0 L302.9,453.0 L304.2,453.0 L305.6,453.0 L306.9,453.0 L308.2,453.0 L309.5,453.0 L310.8,453.0 L312.1,453.0 L313.4,453.0 L314.8,453.0 L316.1,453.0 L317.4,453.0 L318.7,453.0 L320.0,453.0 L321.3,453.0 L322.6,453.0 L323.9,453.0 L325.2,453.0 L326.6,453.0 L327.9,453.0 L329.2,453.0 L330.5,453.0 L331.8,453.0 L333.1,453.0 L334.4,452.9 L335.8,452.9 L337.1,452.9 L338.4,452.8 L339.7,452.7 L341.0,452.6 L342.3,452.5 L343.6,452.4 L344.9,452.2 L346.2,452.0 L347.6,451.8 L348.9,451.6 L350.2,451.4 L351.5,451.2 L352.8,451.1 L354.1,450.9 L355.4,450.8 L356.8,450.7 L358.1,450.7 L359.4,450.7 L360.7,450.8 L362.0,450.9 L363.3,451.1 L364.6,451.2 L365.9,451.4 L367.2,451.6 L368.6,451.8 L369.9,452.0 L371.2,452.2 L372.5,452.4 L373.8,452.5 L375.1,452.6 L376.4,452.7 L377.8,452.8 L379.1,452.8 L380.4,452.9 L381.7,452.9 L383.0,452.9 L384.3,453.0 L385.6,453.0 L386.9,453.0 L388.2,453.0 L389.6,453.0 L390.9,453.0 L392.2,453.0 L393.5,453.0 L394.8,453.0 L396.1,453.0 L397.4,453.0 L398.8,453.0 L400.1,453.0 L401.4,453.0 L402.7,453.0 L404.0,453.0" fill="none" stroke="#e9c25a" stroke-width="1.0" opacity="1" stroke-linejoin="round"/>
<path d="M299.0,453.0 L300.3,453.0 L301.6,453.0 L302.9,453.0 L304.2,453.0 L305.6,453.0 L306.9,453.0 L308.2,453.0 L309.5,453.0 L310.8,453.0 L312.1,453.0 L313.4,453.0 L314.8,453.0 L316.1,453.0 L317.4,453.0 L318.7,453.0 L320.0,453.0 L321.3,453.0 L322.6,453.0 L323.9,453.0 L325.2,453.0 L326.6,453.0 L327.9,453.0 L329.2,453.0 L330.5,453.0 L331.8,452.9 L333.1,452.9 L334.4,452.8 L335.8,452.6 L337.1,452.4 L338.4,452.1 L339.7,451.7 L341.0,451.1 L342.3,450.3 L343.6,449.3 L344.9,448.0 L346.2,446.6 L347.6,444.8 L348.9,442.9 L350.2,440.9 L351.5,438.9 L352.8,437.0 L354.1,435.3 L355.4,433.9 L356.8,432.9 L358.1,432.5 L359.4,432.6 L360.7,433.3 L362.0,434.4 L363.3,436.0 L364.6,437.8 L365.9,439.8 L367.2,441.8 L368.6,443.8 L369.9,445.6 L371.2,447.3 L372.5,448.6 L373.8,449.8 L375.1,450.7 L376.4,451.4 L377.8,451.9 L379.1,452.3 L380.4,452.5 L381.7,452.7 L383.0,452.8 L384.3,452.9 L385.6,452.9 L386.9,453.0 L388.2,453.0 L389.6,453.0 L390.9,453.0 L392.2,453.0 L393.5,453.0 L394.8,453.0 L396.1,453.0 L397.4,453.0 L398.8,453.0 L400.1,453.0 L401.4,453.0 L402.7,453.0 L404.0,453.0" fill="none" stroke="#f1c27b" stroke-width="1.2" opacity="1" stroke-linejoin="round"/>
<path d="M299.0,453.0 L300.3,453.0 L301.6,453.0 L302.9,453.0 L304.2,453.0 L305.6,453.0 L306.9,453.0 L308.2,453.0 L309.5,453.0 L310.8,453.0 L312.1,453.0 L313.4,453.0 L314.8,453.0 L316.1,453.0 L317.4,453.0 L318.7,453.0 L320.0,453.0 L321.3,452.9 L322.6,452.9 L323.9,452.8 L325.2,452.7 L326.6,452.6 L327.9,452.4 L329.2,452.2 L330.5,451.8 L331.8,451.4 L333.1,450.7 L334.4,449.9 L335.8,448.9 L337.1,447.6 L338.4,446.0 L339.7,444.0 L341.0,441.7 L342.3,439.1 L343.6,436.1 L344.9,432.8 L346.2,429.2 L347.6,425.5 L348.9,421.7 L350.2,417.9 L351.5,414.3 L352.8,411.0 L354.1,408.2 L355.4,406.0 L356.8,404.4 L358.1,403.6 L359.4,403.6 L360.7,404.4 L362.0,405.9 L363.3,408.2 L364.6,411.0 L365.9,414.3 L367.2,417.9 L368.6,421.6 L369.9,425.5 L371.2,429.2 L372.5,432.8 L373.8,436.1 L375.1,439.1 L376.4,441.7 L377.8,444.0 L379.1,446.0 L380.4,447.6 L381.7,448.9 L383.0,449.9 L384.3,450.7 L385.6,451.4 L386.9,451.8 L388.2,452.2 L389.6,452.4 L390.9,452.6 L392.2,452.7 L393.5,452.8 L394.8,452.9 L396.1,452.9 L397.4,453.0 L398.8,453.0 L400.1,453.0 L401.4,453.0 L402.7,453.0 L404.0,453.0" fill="none" stroke="#d9a038" stroke-width="1.5" opacity="1" stroke-linejoin="round"/>
<path d="M299.0,453.0 L300.3,453.0 L301.6,453.0 L302.9,453.0 L304.2,453.0 L305.6,453.0 L306.9,453.0 L308.2,453.0 L309.5,453.0 L310.8,453.0 L312.1,453.0 L313.4,453.0 L314.8,453.0 L316.1,453.0 L317.4,453.0 L318.7,452.9 L320.0,452.9 L321.3,452.9 L322.6,452.8 L323.9,452.7 L325.2,452.5 L326.6,452.3 L327.9,451.9 L329.2,451.5 L330.5,450.9 L331.8,450.1 L333.1,449.1 L334.4,447.7 L335.8,446.1 L337.1,444.0 L338.4,441.5 L339.7,438.6 L341.0,435.2 L342.3,431.4 L343.6,427.1 L344.9,422.5 L346.2,417.5 L347.6,412.5 L348.9,407.4 L350.2,402.5 L351.5,397.9 L352.8,393.9 L354.1,390.5 L355.4,388.0 L356.8,386.4 L358.1,385.8 L359.4,386.3 L360.7,387.8 L362.0,390.2 L363.3,393.5 L364.6,397.5 L365.9,402.1 L367.2,406.9 L368.6,412.0 L369.9,417.1 L371.2,422.0 L372.5,426.7 L373.8,431.0 L375.1,434.9 L376.4,438.3 L377.8,441.3 L379.1,443.8 L380.4,445.9 L381.7,447.6 L383.0,448.9 L384.3,450.0 L385.6,450.8 L386.9,451.4 L388.2,451.9 L389.6,452.2 L390.9,452.5 L392.2,452.7 L393.5,452.8 L394.8,452.8 L396.1,452.9 L397.4,452.9 L398.8,453.0 L400.1,453.0 L401.4,453.0 L402.7,453.0 L404.0,453.0" fill="none" stroke="#bf8a2e" stroke-width="1.5" opacity="1" stroke-linejoin="round"/>
<text x="318.8" y="391.1" font-size="11.0" text-anchor="start" fill="#111" font-weight="normal" font-style="normal" >Y ions</text>
<line x1="429.4" y1="457.6" x2="540.0" y2="457.6" stroke="#111" stroke-width="1.3" />
<line x1="437.6" y1="457.6" x2="437.6" y2="459.8" stroke="#222" stroke-width="1.0" />
<line x1="457.6" y1="457.6" x2="457.6" y2="459.8" stroke="#222" stroke-width="1.0" />
<line x1="477.6" y1="457.6" x2="477.6" y2="459.8" stroke="#222" stroke-width="1.0" />
<line x1="497.6" y1="457.6" x2="497.6" y2="459.8" stroke="#222" stroke-width="1.0" />
<text x="437.6" y="470.2" font-size="10.6" text-anchor="middle" fill="#111" font-weight="normal" font-style="normal" >780</text>
<text x="477.6" y="470.2" font-size="10.6" text-anchor="middle" fill="#111" font-weight="normal" font-style="normal" >790</text>
<text x="517.6" y="470.2" font-size="10.6" text-anchor="middle" fill="#111" font-weight="normal" font-style="normal" >800</text>
<text x="486.2" y="483.4" font-size="11.0" text-anchor="middle" fill="#1a1a1a" font-weight="normal" font-style="normal" letter-spacing="0.66">Retention Time</text>
<path d="M434.3,453.4 L435.5,453.4 L436.8,453.4 L438.0,453.4 L439.3,453.4 L440.5,453.4 L441.8,453.4 L443.0,453.4 L444.3,453.4 L445.5,453.4 L446.8,453.4 L448.0,453.4 L449.3,453.4 L450.5,453.4 L451.8,453.4 L453.0,453.4 L454.3,453.3 L455.5,453.3 L456.8,453.3 L458.0,453.2 L459.2,453.2 L460.5,453.1 L461.7,453.0 L463.0,452.9 L464.2,452.8 L465.5,452.6 L466.7,452.4 L468.0,452.2 L469.2,451.9 L470.5,451.6 L471.7,451.2 L473.0,450.8 L474.2,450.4 L475.5,449.9 L476.7,449.4 L478.0,448.8 L479.2,448.2 L480.5,447.6 L481.7,447.0 L483.0,446.4 L484.2,445.9 L485.4,445.4 L486.7,444.9 L487.9,444.5 L489.2,444.2 L490.4,444.0 L491.7,443.9 L492.9,443.9 L494.2,444.0 L495.4,444.2 L496.7,444.5 L497.9,444.9 L499.2,445.3 L500.4,445.8 L501.7,446.3 L502.9,446.9 L504.2,447.5 L505.4,448.1 L506.7,448.7 L507.9,449.3 L509.2,449.8 L510.4,450.3 L511.6,450.8 L512.9,451.2 L514.1,451.6 L515.4,451.9 L516.6,452.2 L517.9,452.4 L519.1,452.6 L520.4,452.8 L521.6,452.9 L522.9,453.0 L524.1,453.1 L525.4,453.2 L526.6,453.2 L527.9,453.3 L529.1,453.3 L530.4,453.3 L531.6,453.4 L532.9,453.4 L534.1,453.4" fill="none" stroke="#96cc78" stroke-width="1.0" opacity="1" stroke-linejoin="round"/>
<path d="M434.3,453.4 L435.5,453.4 L436.8,453.4 L438.0,453.4 L439.3,453.4 L440.5,453.4 L441.8,453.4 L443.0,453.4 L444.3,453.4 L445.5,453.4 L446.8,453.4 L448.0,453.4 L449.3,453.4 L450.5,453.4 L451.8,453.4 L453.0,453.3 L454.3,453.3 L455.5,453.3 L456.8,453.3 L458.0,453.2 L459.2,453.2 L460.5,453.1 L461.7,453.0 L463.0,452.9 L464.2,452.7 L465.5,452.5 L466.7,452.3 L468.0,452.0 L469.2,451.7 L470.5,451.3 L471.7,450.9 L473.0,450.4 L474.2,449.9 L475.5,449.3 L476.7,448.7 L478.0,448.1 L479.2,447.4 L480.5,446.7 L481.7,446.0 L483.0,445.3 L484.2,444.7 L485.4,444.1 L486.7,443.6 L487.9,443.1 L489.2,442.8 L490.4,442.5 L491.7,442.4 L492.9,442.4 L494.2,442.5 L495.4,442.7 L496.7,443.1 L497.9,443.5 L499.2,444.0 L500.4,444.6 L501.7,445.2 L502.9,445.9 L504.2,446.6 L505.4,447.3 L506.7,448.0 L507.9,448.6 L509.2,449.2 L510.4,449.8 L511.6,450.4 L512.9,450.8 L514.1,451.3 L515.4,451.6 L516.6,452.0 L517.9,452.2 L519.1,452.5 L520.4,452.7 L521.6,452.8 L522.9,453.0 L524.1,453.1 L525.4,453.1 L526.6,453.2 L527.9,453.3 L529.1,453.3 L530.4,453.3 L531.6,453.3 L532.9,453.4 L534.1,453.4" fill="none" stroke="#85c266" stroke-width="1.0" opacity="1" stroke-linejoin="round"/>
<path d="M434.3,453.4 L435.5,453.4 L436.8,453.4 L438.0,453.4 L439.3,453.4 L440.5,453.4 L441.8,453.4 L443.0,453.4 L444.3,453.4 L445.5,453.4 L446.8,453.4 L448.0,453.4 L449.3,453.4 L450.5,453.4 L451.8,453.4 L453.0,453.3 L454.3,453.3 L455.5,453.3 L456.8,453.3 L458.0,453.2 L459.2,453.1 L460.5,453.0 L461.7,452.9 L463.0,452.8 L464.2,452.6 L465.5,452.4 L466.7,452.2 L468.0,451.9 L469.2,451.5 L470.5,451.1 L471.7,450.6 L473.0,450.1 L474.2,449.5 L475.5,448.9 L476.7,448.2 L478.0,447.5 L479.2,446.7 L480.5,446.0 L481.7,445.2 L483.0,444.5 L484.2,443.7 L485.4,443.1 L486.7,442.5 L487.9,442.0 L489.2,441.6 L490.4,441.4 L491.7,441.2 L492.9,441.2 L494.2,441.3 L495.4,441.6 L496.7,442.0 L497.9,442.4 L499.2,443.0 L500.4,443.6 L501.7,444.3 L502.9,445.1 L504.2,445.9 L505.4,446.6 L506.7,447.4 L507.9,448.1 L509.2,448.8 L510.4,449.4 L511.6,450.0 L512.9,450.6 L514.1,451.0 L515.4,451.5 L516.6,451.8 L517.9,452.1 L519.1,452.4 L520.4,452.6 L521.6,452.8 L522.9,452.9 L524.1,453.0 L525.4,453.1 L526.6,453.2 L527.9,453.2 L529.1,453.3 L530.4,453.3 L531.6,453.3 L532.9,453.4 L534.1,453.4" fill="none" stroke="#74b556" stroke-width="1.0" opacity="1" stroke-linejoin="round"/>
<path d="M434.3,453.4 L435.5,453.4 L436.8,453.4 L438.0,453.4 L439.3,453.4 L440.5,453.4 L441.8,453.4 L443.0,453.4 L444.3,453.4 L445.5,453.4 L446.8,453.4 L448.0,453.4 L449.3,453.4 L450.5,453.4 L451.8,453.4 L453.0,453.4 L454.3,453.3 L455.5,453.3 L456.8,453.3 L458.0,453.2 L459.2,453.2 L460.5,453.1 L461.7,453.0 L463.0,452.9 L464.2,452.7 L465.5,452.5 L466.7,452.3 L468.0,452.0 L469.2,451.6 L470.5,451.2 L471.7,450.7 L473.0,450.1 L474.2,449.5 L475.5,448.8 L476.7,448.0 L478.0,447.2 L479.2,446.4 L480.5,445.5 L481.7,444.6 L483.0,443.7 L484.2,442.9 L485.4,442.1 L486.7,441.4 L487.9,440.8 L489.2,440.3 L490.4,440.0 L491.7,439.8 L492.9,439.8 L494.2,440.0 L495.4,440.3 L496.7,440.7 L497.9,441.3 L499.2,442.0 L500.4,442.7 L501.7,443.6 L502.9,444.4 L504.2,445.3 L505.4,446.2 L506.7,447.1 L507.9,447.9 L509.2,448.7 L510.4,449.4 L511.6,450.0 L512.9,450.6 L514.1,451.1 L515.4,451.6 L516.6,451.9 L517.9,452.2 L519.1,452.5 L520.4,452.7 L521.6,452.9 L522.9,453.0 L524.1,453.1 L525.4,453.2 L526.6,453.2 L527.9,453.3 L529.1,453.3 L530.4,453.3 L531.6,453.4 L532.9,453.4 L534.1,453.4" fill="none" stroke="#7ba36a" stroke-width="1.1" opacity="1" stroke-linejoin="round"/>
<path d="M434.3,453.4 L435.5,453.4 L436.8,453.4 L438.0,453.4 L439.3,453.4 L440.5,453.4 L441.8,453.4 L443.0,453.4 L444.3,453.4 L445.5,453.4 L446.8,453.4 L448.0,453.4 L449.3,453.4 L450.5,453.4 L451.8,453.4 L453.0,453.4 L454.3,453.4 L455.5,453.3 L456.8,453.3 L458.0,453.3 L459.2,453.2 L460.5,453.1 L461.7,453.0 L463.0,452.9 L464.2,452.7 L465.5,452.4 L466.7,452.2 L468.0,451.8 L469.2,451.3 L470.5,450.8 L471.7,450.2 L473.0,449.4 L474.2,448.6 L475.5,447.6 L476.7,446.5 L478.0,445.4 L479.2,444.1 L480.5,442.9 L481.7,441.6 L483.0,440.3 L484.2,439.0 L485.4,437.8 L486.7,436.8 L487.9,435.9 L489.2,435.2 L490.4,434.7 L491.7,434.4 L492.9,434.4 L494.2,434.6 L495.4,435.1 L496.7,435.8 L497.9,436.6 L499.2,437.7 L500.4,438.8 L501.7,440.1 L502.9,441.4 L504.2,442.7 L505.4,444.0 L506.7,445.2 L507.9,446.4 L509.2,447.4 L510.4,448.4 L511.6,449.3 L512.9,450.0 L514.1,450.7 L515.4,451.3 L516.6,451.7 L517.9,452.1 L519.1,452.4 L520.4,452.7 L521.6,452.8 L522.9,453.0 L524.1,453.1 L525.4,453.2 L526.6,453.2 L527.9,453.3 L529.1,453.3 L530.4,453.4 L531.6,453.4 L532.9,453.4 L534.1,453.4" fill="none" stroke="#429c30" stroke-width="1.3" opacity="1" stroke-linejoin="round"/>
<path d="M434.3,453.4 L435.5,453.4 L436.8,453.4 L438.0,453.4 L439.3,453.4 L440.5,453.4 L441.8,453.4 L443.0,453.4 L444.3,453.4 L445.5,453.4 L446.8,453.4 L448.0,453.4 L449.3,453.4 L450.5,453.4 L451.8,453.4 L453.0,453.4 L454.3,453.3 L455.5,453.3 L456.8,453.2 L458.0,453.2 L459.2,453.1 L460.5,452.9 L461.7,452.8 L463.0,452.6 L464.2,452.3 L465.5,451.9 L466.7,451.4 L468.0,450.8 L469.2,450.1 L470.5,449.3 L471.7,448.2 L473.0,447.1 L474.2,445.7 L475.5,444.2 L476.7,442.5 L478.0,440.6 L479.2,438.7 L480.5,436.6 L481.7,434.6 L483.0,432.5 L484.2,430.5 L485.4,428.7 L486.7,427.0 L487.9,425.6 L489.2,424.5 L490.4,423.7 L491.7,423.3 L492.9,423.2 L494.2,423.6 L495.4,424.3 L496.7,425.4 L497.9,426.8 L499.2,428.4 L500.4,430.2 L501.7,432.2 L502.9,434.3 L504.2,436.3 L505.4,438.4 L506.7,440.4 L507.9,442.2 L509.2,443.9 L510.4,445.5 L511.6,446.9 L512.9,448.1 L514.1,449.1 L515.4,450.0 L516.6,450.7 L517.9,451.3 L519.1,451.8 L520.4,452.2 L521.6,452.5 L522.9,452.7 L524.1,452.9 L525.4,453.1 L526.6,453.2 L527.9,453.2 L529.1,453.3 L530.4,453.3 L531.6,453.3 L532.9,453.4 L534.1,453.4" fill="none" stroke="#4e6e40" stroke-width="1.3" opacity="1" stroke-linejoin="round"/>
<path d="M434.3,453.4 L435.5,453.4 L436.8,453.4 L438.0,453.4 L439.3,453.4 L440.5,453.4 L441.8,453.4 L443.0,453.4 L444.3,453.4 L445.5,453.4 L446.8,453.4 L448.0,453.4 L449.3,453.4 L450.5,453.4 L451.8,453.4 L453.0,453.4 L454.3,453.3 L455.5,453.3 L456.8,453.2 L458.0,453.1 L459.2,453.0 L460.5,452.8 L461.7,452.6 L463.0,452.2 L464.2,451.7 L465.5,451.1 L466.7,450.3 L468.0,449.3 L469.2,448.0 L470.5,446.4 L471.7,444.5 L473.0,442.1 L474.2,439.4 L475.5,436.3 L476.7,432.7 L478.0,428.8 L479.2,424.5 L480.5,420.0 L481.7,415.4 L483.0,410.7 L484.2,406.1 L485.4,401.8 L486.7,397.9 L487.9,394.6 L489.2,391.9 L490.4,390.0 L491.7,389.1 L492.9,389.0 L494.2,389.8 L495.4,391.6 L496.7,394.1 L497.9,397.4 L499.2,401.2 L500.4,405.5 L501.7,410.0 L502.9,414.7 L504.2,419.4 L505.4,423.9 L506.7,428.2 L507.9,432.2 L509.2,435.8 L510.4,439.0 L511.6,441.8 L512.9,444.1 L514.1,446.1 L515.4,447.8 L516.6,449.1 L517.9,450.2 L519.1,451.0 L520.4,451.7 L521.6,452.2 L522.9,452.5 L524.1,452.8 L525.4,453.0 L526.6,453.1 L527.9,453.2 L529.1,453.3 L530.4,453.3 L531.6,453.3 L532.9,453.4 L534.1,453.4" fill="none" stroke="#2d5e35" stroke-width="1.4" opacity="1" stroke-linejoin="round"/>
<text x="451.6" y="391.1" font-size="11.0" text-anchor="start" fill="#111" font-weight="normal" font-style="normal" >Y ions</text>
<text x="437.6" y="433.2" font-size="11.0" text-anchor="start" fill="#111" font-weight="normal" font-style="normal" >b/y ions</text>
<text x="180.8" y="424.9" font-size="11.0" text-anchor="start" fill="#111" font-weight="normal" font-style="normal" >b/y ions</text>
<text x="4.0" y="510.6" font-size="13.5" text-anchor="start" fill="#111" font-weight="bold" font-style="normal" >d</text>
<text x="39.3" y="510.6" font-size="11.0" text-anchor="start" fill="#111" font-weight="normal" font-style="normal" >Scoring &amp; Statistical Control</text>
<text x="41.6" y="536.6" font-size="11.15" text-anchor="start" fill="#111" font-weight="normal" font-style="normal" >D-Score Distribution</text>
<polygon points="30.0,562.5 72.5,543.0 72.5,600.0 32.5,624.7" fill="#f5f5f5" />
<polygon points="72.5,543.0 147.7,552.0 147.7,612.0 72.5,600.0" fill="#f7f7f7" />
<polygon points="32.5,624.7 72.5,600.0 147.7,612.0 106.0,644.0" fill="#f8f8f8" />
<line x1="38.5" y1="558.6" x2="40.5" y2="619.8" stroke="#b2b2b2" stroke-width="0.6" />
<line x1="47.0" y1="554.7" x2="48.5" y2="614.8" stroke="#b2b2b2" stroke-width="0.6" />
<line x1="55.5" y1="550.8" x2="56.5" y2="609.9" stroke="#b2b2b2" stroke-width="0.6" />
<line x1="64.0" y1="546.9" x2="64.5" y2="604.9" stroke="#b2b2b2" stroke-width="0.6" />
<line x1="30.3" y1="570.3" x2="72.5" y2="550.1" stroke="#b2b2b2" stroke-width="0.6" />
<line x1="30.6" y1="578.0" x2="72.5" y2="557.2" stroke="#b2b2b2" stroke-width="0.6" />
<line x1="30.9" y1="585.8" x2="72.5" y2="564.4" stroke="#b2b2b2" stroke-width="0.6" />
<line x1="31.2" y1="593.6" x2="72.5" y2="571.5" stroke="#b2b2b2" stroke-width="0.6" />
<line x1="31.6" y1="601.4" x2="72.5" y2="578.6" stroke="#b2b2b2" stroke-width="0.6" />
<line x1="31.9" y1="609.2" x2="72.5" y2="585.8" stroke="#b2b2b2" stroke-width="0.6" />
<line x1="32.2" y1="616.9" x2="72.5" y2="592.9" stroke="#b2b2b2" stroke-width="0.6" />
<line x1="85.0" y1="544.5" x2="85.0" y2="602.0" stroke="#b2b2b2" stroke-width="0.6" />
<line x1="97.6" y1="546.0" x2="97.6" y2="604.0" stroke="#b2b2b2" stroke-width="0.6" />
<line x1="110.1" y1="547.5" x2="110.1" y2="606.0" stroke="#b2b2b2" stroke-width="0.6" />
<line x1="122.6" y1="549.0" x2="122.6" y2="608.0" stroke="#b2b2b2" stroke-width="0.6" />
<line x1="135.2" y1="550.5" x2="135.2" y2="610.0" stroke="#b2b2b2" stroke-width="0.6" />
<line x1="72.5" y1="550.1" x2="147.7" y2="559.5" stroke="#b2b2b2" stroke-width="0.6" />
<line x1="72.5" y1="557.2" x2="147.7" y2="567.0" stroke="#b2b2b2" stroke-width="0.6" />
<line x1="72.5" y1="564.4" x2="147.7" y2="574.5" stroke="#b2b2b2" stroke-width="0.6" />
<line x1="72.5" y1="571.5" x2="147.7" y2="582.0" stroke="#b2b2b2" stroke-width="0.6" />
<line x1="72.5" y1="578.6" x2="147.7" y2="589.5" stroke="#b2b2b2" stroke-width="0.6" />
<line x1="72.5" y1="585.8" x2="147.7" y2="597.0" stroke="#b2b2b2" stroke-width="0.6" />
<line x1="72.5" y1="592.9" x2="147.7" y2="604.5" stroke="#b2b2b2" stroke-width="0.6" />
<line x1="39.2" y1="620.6" x2="113.0" y2="638.7" stroke="#b2b2b2" stroke-width="0.6" />
<line x1="45.8" y1="616.5" x2="119.9" y2="633.3" stroke="#b2b2b2" stroke-width="0.6" />
<line x1="52.5" y1="612.4" x2="126.8" y2="628.0" stroke="#b2b2b2" stroke-width="0.6" />
<line x1="59.2" y1="608.2" x2="133.8" y2="622.7" stroke="#b2b2b2" stroke-width="0.6" />
<line x1="65.8" y1="604.1" x2="140.8" y2="617.3" stroke="#b2b2b2" stroke-width="0.6" />
<line x1="44.8" y1="627.9" x2="85.0" y2="602.0" stroke="#b2b2b2" stroke-width="0.6" />
<line x1="57.0" y1="631.1" x2="97.6" y2="604.0" stroke="#b2b2b2" stroke-width="0.6" />
<line x1="69.2" y1="634.4" x2="110.1" y2="606.0" stroke="#b2b2b2" stroke-width="0.6" />
<line x1="81.5" y1="637.6" x2="122.6" y2="608.0" stroke="#b2b2b2" stroke-width="0.6" />
<line x1="93.8" y1="640.8" x2="135.2" y2="610.0" stroke="#b2b2b2" stroke-width="0.6" />
<line x1="30.0" y1="562.5" x2="72.5" y2="543.0" stroke="#bdbdbd" stroke-width="0.6" />
<line x1="72.5" y1="543.0" x2="147.7" y2="552.0" stroke="#bdbdbd" stroke-width="0.6" />
<line x1="72.5" y1="543.0" x2="72.5" y2="600.0" stroke="#bdbdbd" stroke-width="0.6" />
<line x1="30.0" y1="562.5" x2="32.5" y2="624.7" stroke="#bdbdbd" stroke-width="0.6" />
<line x1="147.7" y1="552.0" x2="147.7" y2="612.0" stroke="#bdbdbd" stroke-width="0.6" />
<line x1="32.5" y1="624.7" x2="106.0" y2="644.0" stroke="#444" stroke-width="0.8" />
<line x1="106.0" y1="644.0" x2="147.7" y2="612.0" stroke="#444" stroke-width="0.8" />
<line x1="38.4" y1="626.2" x2="39.0" y2="628.4" stroke="#444" stroke-width="0.6" />
<line x1="109.3" y1="641.4" x2="111.3" y2="642.2" stroke="#444" stroke-width="0.6" />
<line x1="53.1" y1="630.1" x2="53.7" y2="632.3" stroke="#444" stroke-width="0.6" />
<line x1="117.7" y1="635.0" x2="119.7" y2="635.8" stroke="#444" stroke-width="0.6" />
<line x1="67.8" y1="634.0" x2="68.4" y2="636.2" stroke="#444" stroke-width="0.6" />
<line x1="126.0" y1="628.6" x2="128.0" y2="629.4" stroke="#444" stroke-width="0.6" />
<line x1="82.5" y1="637.8" x2="83.1" y2="640.0" stroke="#444" stroke-width="0.6" />
<line x1="134.4" y1="622.2" x2="136.4" y2="623.0" stroke="#444" stroke-width="0.6" />
<line x1="97.2" y1="641.7" x2="97.8" y2="643.9" stroke="#444" stroke-width="0.6" />
<line x1="142.7" y1="615.8" x2="144.7" y2="616.6" stroke="#444" stroke-width="0.6" />
<defs>
<linearGradient id="gR" x1="0" x2="0" y1="0" y2="1"><stop offset="0.000" stop-color="#7e1820"/><stop offset="0.100" stop-color="#7e1820"/><stop offset="0.100" stop-color="#9e1f26"/><stop offset="0.200" stop-color="#9e1f26"/><stop offset="0.200" stop-color="#b8262a"/><stop offset="0.300" stop-color="#b8262a"/><stop offset="0.300" stop-color="#cc3430"/><stop offset="0.400" stop-color="#cc3430"/><stop offset="0.400" stop-color="#dc4a3c"/><stop offset="0.500" stop-color="#dc4a3c"/><stop offset="0.500" stop-color="#e6664e"/><stop offset="0.600" stop-color="#e6664e"/><stop offset="0.600" stop-color="#ee8a72"/><stop offset="0.700" stop-color="#ee8a72"/><stop offset="0.700" stop-color="#f4ae9a"/><stop offset="0.800" stop-color="#f4ae9a"/><stop offset="0.800" stop-color="#f8cec2"/><stop offset="0.900" stop-color="#f8cec2"/><stop offset="0.900" stop-color="#fbe6de"/><stop offset="1.000" stop-color="#fbe6de"/></linearGradient>
<linearGradient id="gO" x1="0" x2="0" y1="0" y2="1"><stop offset="0.000" stop-color="#7a3410"/><stop offset="0.100" stop-color="#7a3410"/><stop offset="0.100" stop-color="#9c4514"/><stop offset="0.200" stop-color="#9c4514"/><stop offset="0.200" stop-color="#c0601c"/><stop offset="0.300" stop-color="#c0601c"/><stop offset="0.300" stop-color="#de7c24"/><stop offset="0.400" stop-color="#de7c24"/><stop offset="0.400" stop-color="#ef9a34"/><stop offset="0.500" stop-color="#ef9a34"/><stop offset="0.500" stop-color="#f6b452"/><stop offset="0.600" stop-color="#f6b452"/><stop offset="0.600" stop-color="#f9ca74"/><stop offset="0.700" stop-color="#f9ca74"/><stop offset="0.700" stop-color="#fbdc9a"/><stop offset="0.800" stop-color="#fbdc9a"/><stop offset="0.800" stop-color="#fce9bd"/><stop offset="0.900" stop-color="#fce9bd"/><stop offset="0.900" stop-color="#fdf4dc"/><stop offset="1.000" stop-color="#fdf4dc"/></linearGradient>
<linearGradient id="gG" x1="0" x2="0" y1="0" y2="1"><stop offset="0.000" stop-color="#0e5226"/><stop offset="0.100" stop-color="#0e5226"/><stop offset="0.100" stop-color="#1c6b33"/><stop offset="0.200" stop-color="#1c6b33"/><stop offset="0.200" stop-color="#2f8541"/><stop offset="0.300" stop-color="#2f8541"/><stop offset="0.300" stop-color="#4a9d52"/><stop offset="0.400" stop-color="#4a9d52"/><stop offset="0.400" stop-color="#6bb469"/><stop offset="0.500" stop-color="#6bb469"/><stop offset="0.500" stop-color="#8dc684"/><stop offset="0.600" stop-color="#8dc684"/><stop offset="0.600" stop-color="#abd69f"/><stop offset="0.700" stop-color="#abd69f"/><stop offset="0.700" stop-color="#c6e3bb"/><stop offset="0.800" stop-color="#c6e3bb"/><stop offset="0.800" stop-color="#ddefd5"/><stop offset="0.900" stop-color="#ddefd5"/><stop offset="0.900" stop-color="#eef7ea"/><stop offset="1.000" stop-color="#eef7ea"/></linearGradient>
<linearGradient id="gB" x1="0" x2="0" y1="0" y2="1"><stop offset="0.000" stop-color="#0d3a7e"/><stop offset="0.100" stop-color="#0d3a7e"/><stop offset="0.100" stop-color="#1a4f95"/><stop offset="0.200" stop-color="#1a4f95"/><stop offset="0.200" stop-color="#2c66aa"/><stop offset="0.300" stop-color="#2c66aa"/><stop offset="0.300" stop-color="#4580bd"/><stop offset="0.400" stop-color="#4580bd"/><stop offset="0.400" stop-color="#6399cb"/><stop offset="0.500" stop-color="#6399cb"/><stop offset="0.500" stop-color="#86b2d8"/><stop offset="0.600" stop-color="#86b2d8"/><stop offset="0.600" stop-color="#a7c8e4"/><stop offset="0.700" stop-color="#a7c8e4"/><stop offset="0.700" stop-color="#c6dcee"/><stop offset="0.800" stop-color="#c6dcee"/><stop offset="0.800" stop-color="#e0ecf6"/><stop offset="0.900" stop-color="#e0ecf6"/><stop offset="0.900" stop-color="#f4f8fc"/><stop offset="1.000" stop-color="#f4f8fc"/></linearGradient>
<radialGradient id="hR"><stop offset="0" stop-color="#f8cfc4"/><stop offset="1" stop-color="#f8cfc4" stop-opacity="0"/></radialGradient>
<radialGradient id="hB"><stop offset="0" stop-color="#d6e6f4"/><stop offset="1" stop-color="#d6e6f4" stop-opacity="0"/></radialGradient>
<radialGradient id="hG"><stop offset="0" stop-color="#dcefd4"/><stop offset="1" stop-color="#dcefd4" stop-opacity="0"/></radialGradient>
<radialGradient id="hO"><stop offset="0" stop-color="#fbeac0"/><stop offset="1" stop-color="#fbeac0" stop-opacity="0"/></radialGradient>
</defs>
<ellipse cx="104" cy="606" rx="16" ry="6" fill="url(#hG)"/>
<ellipse cx="86" cy="602" rx="16" ry="5" fill="url(#hO)"/>
<ellipse cx="58" cy="614" rx="16" ry="6" fill="url(#hR)"/>
<path d="M88.0,603.6 L88.6,603.2 L89.2,602.7 L89.8,602.1 L90.4,601.4 L91.0,600.6 L91.6,599.7 L92.2,598.7 L92.8,597.5 L93.4,596.3 L94.0,595.0 L94.6,593.7 L95.2,592.4 L95.8,591.1 L96.4,589.9 L97.0,588.8 L97.6,587.7 L98.2,586.8 L98.8,585.9 L99.4,585.1 L100.0,584.2 L100.6,583.4 L101.2,582.4 L101.8,581.2 L102.4,579.8 L103.0,578.1 L103.6,576.2 L104.2,574.0 L104.8,571.6 L105.4,569.2 L106.0,566.8 L106.6,564.6 L107.2,562.8 L107.8,561.5 L108.4,560.9 L109.0,561.0 L109.6,562.0 L110.2,563.7 L110.8,566.1 L111.4,569.1 L112.0,572.6 L112.6,576.4 L113.2,580.3 L113.8,584.2 L114.4,587.9 L115.0,591.3 L115.6,594.4 L116.2,597.0 L116.8,599.3 L117.4,601.1 L118.0,602.6 L118.6,603.8 L119.2,604.7 L119.8,605.4 L120.4,605.8 L121.0,606.2 L121.6,606.5 L122.2,606.6 L122.8,606.8 L123.4,606.9 L124.0,606.9 L124.0,610.0 L88.0,608.0 Z" fill="url(#gG)"/>
<path d="M66.0,600.9 L66.7,600.8 L67.3,600.8 L68.0,600.7 L68.6,600.6 L69.2,600.4 L69.9,600.1 L70.5,599.8 L71.2,599.3 L71.8,598.7 L72.5,598.0 L73.2,597.1 L73.8,595.9 L74.5,594.6 L75.1,593.0 L75.8,591.1 L76.4,589.1 L77.0,586.8 L77.7,584.3 L78.3,581.6 L79.0,578.9 L79.7,576.0 L80.3,573.3 L81.0,570.6 L81.6,568.1 L82.2,565.9 L82.9,564.1 L83.5,562.7 L84.2,561.8 L84.8,561.5 L85.5,561.7 L86.2,562.4 L86.8,563.6 L87.5,565.3 L88.1,567.4 L88.8,569.8 L89.4,572.5 L90.0,575.3 L90.7,578.1 L91.3,581.0 L92.0,583.8 L92.7,586.4 L93.3,588.9 L94.0,591.1 L94.6,593.1 L95.2,594.9 L95.9,596.4 L96.5,597.7 L97.2,598.8 L97.8,599.7 L98.5,600.5 L99.2,601.0 L99.8,601.5 L100.5,601.9 L101.1,602.2 L101.8,602.4 L102.4,602.5 L103.0,602.7 L103.7,602.8 L104.3,602.9 L105.0,602.9 L105.0,606.0 L66.0,604.0 Z" fill="url(#gO)"/>
<path d="M40.0,612.9 L40.6,612.9 L41.2,612.8 L41.8,612.7 L42.4,612.6 L43.0,612.4 L43.6,612.2 L44.2,611.8 L44.8,611.4 L45.4,610.8 L46.0,610.0 L46.6,609.1 L47.2,607.9 L47.8,606.5 L48.4,604.9 L49.0,602.9 L49.6,600.7 L50.2,598.2 L50.8,595.5 L51.4,592.5 L52.0,589.4 L52.6,586.2 L53.2,582.9 L53.8,579.7 L54.4,576.7 L55.0,573.9 L55.6,571.4 L56.2,569.4 L56.8,568.0 L57.4,567.1 L58.0,566.8 L58.6,567.1 L59.2,568.1 L59.8,569.6 L60.4,571.7 L61.0,574.2 L61.6,577.1 L62.2,580.2 L62.8,583.4 L63.4,586.8 L64.0,590.1 L64.6,593.3 L65.2,596.3 L65.8,599.1 L66.4,601.7 L67.0,603.9 L67.6,605.9 L68.2,607.7 L68.8,609.1 L69.4,610.4 L70.0,611.4 L70.6,612.2 L71.2,612.9 L71.8,613.4 L72.4,613.8 L73.0,614.1 L73.6,614.3 L74.2,614.5 L74.8,614.7 L75.4,614.8 L76.0,614.9 L76.0,617.0 L40.0,615.0 Z" fill="url(#gR)"/>
<ellipse cx="80" cy="623" rx="26" ry="6" fill="url(#hB)"/>
<path d="M52.0,620.7 L53.0,620.7 L53.9,620.7 L54.9,620.6 L55.9,620.5 L56.8,620.4 L57.8,620.2 L58.8,619.9 L59.7,619.6 L60.7,619.1 L61.7,618.5 L62.6,617.8 L63.6,616.8 L64.6,615.7 L65.5,614.4 L66.5,612.9 L67.5,611.4 L68.4,609.8 L69.4,608.4 L70.4,607.1 L71.3,606.1 L72.3,605.3 L73.3,605.0 L74.2,604.9 L75.2,605.1 L76.2,605.5 L77.1,606.0 L78.1,606.3 L79.1,606.4 L80.0,606.3 L81.0,605.9 L82.0,605.2 L82.9,604.4 L83.9,603.6 L84.9,602.9 L85.8,602.6 L86.8,602.6 L87.8,603.2 L88.7,604.3 L89.7,605.8 L90.7,607.6 L91.6,609.7 L92.6,611.7 L93.6,613.7 L94.5,615.5 L95.5,617.1 L96.5,618.4 L97.4,619.4 L98.4,620.2 L99.4,620.8 L100.3,621.3 L101.3,621.6 L102.3,621.9 L103.2,622.1 L104.2,622.2 L105.2,622.4 L106.1,622.5 L107.1,622.6 L108.1,622.7 L109.0,622.8 L110.0,622.8 L110.0,624.0 L52.0,622.0 Z" fill="url(#gB)"/>
<text x="154.6" y="585.4" font-size="8.9" text-anchor="middle" fill="#111" font-weight="normal" font-style="normal" transform="rotate(-90 155.5 585.0)">Density</text>
<text x="35.2" y="634.0" font-size="7.4" text-anchor="middle" fill="#222" font-weight="normal" font-style="normal" >−2</text>
<text x="46.9" y="638.0" font-size="7.4" text-anchor="middle" fill="#222" font-weight="normal" font-style="normal" >0</text>
<text x="60.2" y="641.6" font-size="7.4" text-anchor="middle" fill="#222" font-weight="normal" font-style="normal" >2</text>
<text x="73.5" y="645.2" font-size="7.4" text-anchor="middle" fill="#222" font-weight="normal" font-style="normal" >4</text>
<text x="86.5" y="648.5" font-size="7.4" text-anchor="middle" fill="#222" font-weight="normal" font-style="normal" >6</text>
<text x="115.6" y="647.2" font-size="7.4" text-anchor="middle" fill="#222" font-weight="normal" font-style="normal" >−2</text>
<text x="124.0" y="640.2" font-size="7.4" text-anchor="middle" fill="#222" font-weight="normal" font-style="normal" >0</text>
<text x="131.7" y="633.3" font-size="7.4" text-anchor="middle" fill="#222" font-weight="normal" font-style="normal" >2</text>
<text x="139.8" y="626.4" font-size="7.4" text-anchor="middle" fill="#222" font-weight="normal" font-style="normal" >4</text>
<text x="147.5" y="620.0" font-size="7.4" text-anchor="middle" fill="#222" font-weight="normal" font-style="normal" >6</text>
<text x="62.6" y="652.8" font-size="8.4" text-anchor="middle" fill="#111" font-weight="normal" font-style="normal" letter-spacing="0.1" transform="rotate(14 62.6 652.8)">Peptide D-score</text>
<text x="137.6" y="641.6" font-size="8.2" text-anchor="middle" fill="#111" font-weight="normal" font-style="normal" letter-spacing="0.1" transform="rotate(-37 137.6 641.6)">Glycan D-score</text>
<text x="241.0" y="535.5" font-size="11.2" text-anchor="middle" fill="#111" font-weight="normal" font-style="normal" >Q-Value</text>
<clipPath id="pc"><rect x="189.6" y="538.6" width="107.70000000000002" height="106.5"/></clipPath>
<g clip-path="url(#pc)">
<circle cx="217.4" cy="622.4" r="1.45" fill="#e3262a"/>
<circle cx="207.3" cy="556.5" r="1.45" fill="#c3c02a"/>
<circle cx="235.0" cy="564.0" r="1.45" fill="#26904a"/>
<circle cx="207.9" cy="583.4" r="1.45" fill="#c3c02a"/>
<circle cx="267.1" cy="560.6" r="1.45" fill="#26904a"/>
<circle cx="198.2" cy="578.2" r="1.45" fill="#c3c02a"/>
<circle cx="258.4" cy="621.1" r="1.45" fill="#2358b0"/>
<circle cx="213.6" cy="629.6" r="1.45" fill="#e3262a"/>
<circle cx="254.1" cy="621.9" r="1.45" fill="#2358b0"/>
<circle cx="232.6" cy="568.0" r="1.45" fill="#26904a"/>
<circle cx="217.0" cy="624.0" r="1.45" fill="#e3262a"/>
<circle cx="215.4" cy="589.5" r="1.45" fill="#c3c02a"/>
<circle cx="228.5" cy="555.2" r="1.45" fill="#c3c02a"/>
<circle cx="195.0" cy="547.6" r="1.45" fill="#c3c02a"/>
<circle cx="249.6" cy="592.5" r="1.45" fill="#2358b0"/>
<circle cx="226.6" cy="621.7" r="1.45" fill="#2358b0"/>
<circle cx="292.0" cy="570.6" r="1.45" fill="#26904a"/>
<circle cx="239.8" cy="556.2" r="1.45" fill="#26904a"/>
<circle cx="221.2" cy="624.2" r="1.45" fill="#e3262a"/>
<circle cx="211.1" cy="629.4" r="1.45" fill="#e3262a"/>
<circle cx="243.2" cy="616.7" r="1.45" fill="#2358b0"/>
<circle cx="219.6" cy="559.2" r="1.45" fill="#c3c02a"/>
<circle cx="232.9" cy="552.5" r="1.45" fill="#26904a"/>
<circle cx="235.9" cy="619.8" r="1.45" fill="#2358b0"/>
<circle cx="263.8" cy="547.1" r="1.45" fill="#26904a"/>
<circle cx="228.4" cy="545.4" r="1.45" fill="#c3c02a"/>
<circle cx="227.7" cy="638.2" r="1.45" fill="#2358b0"/>
<circle cx="209.3" cy="626.0" r="1.45" fill="#e3262a"/>
<circle cx="224.2" cy="630.6" r="1.45" fill="#e3262a"/>
<circle cx="215.9" cy="622.9" r="1.45" fill="#e3262a"/>
<circle cx="223.6" cy="619.8" r="1.45" fill="#2358b0"/>
<circle cx="207.3" cy="562.3" r="1.45" fill="#c3c02a"/>
<circle cx="265.1" cy="623.9" r="1.45" fill="#2358b0"/>
<circle cx="214.3" cy="626.2" r="1.45" fill="#e3262a"/>
<circle cx="208.2" cy="587.8" r="1.45" fill="#2358b0"/>
<circle cx="203.2" cy="570.2" r="1.45" fill="#c3c02a"/>
<circle cx="255.1" cy="615.2" r="1.45" fill="#2358b0"/>
<circle cx="222.6" cy="606.0" r="1.45" fill="#2358b0"/>
<circle cx="197.6" cy="591.8" r="1.45" fill="#c3c02a"/>
<circle cx="287.9" cy="566.6" r="1.45" fill="#26904a"/>
<circle cx="236.2" cy="560.1" r="1.45" fill="#26904a"/>
<circle cx="212.8" cy="629.4" r="1.45" fill="#e3262a"/>
<circle cx="219.5" cy="559.7" r="1.45" fill="#c3c02a"/>
<circle cx="223.4" cy="612.5" r="1.45" fill="#e3262a"/>
<circle cx="217.3" cy="630.4" r="1.45" fill="#e3262a"/>
<circle cx="285.5" cy="587.4" r="1.45" fill="#26904a"/>
<circle cx="270.6" cy="558.8" r="1.45" fill="#26904a"/>
<circle cx="203.6" cy="626.6" r="1.45" fill="#e3262a"/>
<circle cx="230.7" cy="614.5" r="1.45" fill="#2358b0"/>
<circle cx="204.6" cy="561.1" r="1.45" fill="#c3c02a"/>
<circle cx="251.4" cy="617.8" r="1.45" fill="#2358b0"/>
<circle cx="213.9" cy="635.6" r="1.45" fill="#e3262a"/>
<circle cx="251.6" cy="605.5" r="1.45" fill="#2358b0"/>
<circle cx="212.1" cy="572.5" r="1.45" fill="#2358b0"/>
<circle cx="247.5" cy="617.7" r="1.45" fill="#2358b0"/>
<circle cx="220.1" cy="628.1" r="1.45" fill="#e3262a"/>
<circle cx="211.5" cy="629.6" r="1.45" fill="#e3262a"/>
<circle cx="212.5" cy="571.8" r="1.45" fill="#c3c02a"/>
<circle cx="227.1" cy="558.6" r="1.45" fill="#c3c02a"/>
<circle cx="250.7" cy="600.5" r="1.45" fill="#2358b0"/>
<circle cx="232.3" cy="623.0" r="1.45" fill="#2358b0"/>
<circle cx="213.1" cy="619.6" r="1.45" fill="#e3262a"/>
<circle cx="245.1" cy="620.7" r="1.45" fill="#2358b0"/>
<circle cx="223.5" cy="634.0" r="1.45" fill="#2358b0"/>
<circle cx="208.8" cy="590.7" r="1.45" fill="#c3c02a"/>
<circle cx="260.8" cy="635.1" r="1.45" fill="#2358b0"/>
<circle cx="253.2" cy="558.2" r="1.45" fill="#26904a"/>
<circle cx="225.3" cy="558.9" r="1.45" fill="#c3c02a"/>
<circle cx="214.8" cy="622.4" r="1.45" fill="#e3262a"/>
<circle cx="245.0" cy="629.4" r="1.45" fill="#2358b0"/>
<circle cx="257.6" cy="593.3" r="1.45" fill="#26904a"/>
<circle cx="222.3" cy="559.4" r="1.45" fill="#c3c02a"/>
<circle cx="197.4" cy="570.9" r="1.45" fill="#2358b0"/>
<circle cx="225.3" cy="561.1" r="1.45" fill="#c3c02a"/>
<circle cx="219.0" cy="579.1" r="1.45" fill="#c3c02a"/>
<circle cx="205.0" cy="622.9" r="1.45" fill="#e3262a"/>
<circle cx="254.5" cy="621.2" r="1.45" fill="#2358b0"/>
<circle cx="231.9" cy="545.7" r="1.45" fill="#c3c02a"/>
<circle cx="215.7" cy="572.6" r="1.45" fill="#c3c02a"/>
<circle cx="219.8" cy="552.9" r="1.45" fill="#c3c02a"/>
<circle cx="260.0" cy="574.0" r="1.45" fill="#26904a"/>
<circle cx="231.6" cy="547.7" r="1.45" fill="#26904a"/>
<circle cx="209.4" cy="616.0" r="1.45" fill="#e3262a"/>
<circle cx="209.3" cy="622.1" r="1.45" fill="#e3262a"/>
<circle cx="207.4" cy="585.5" r="1.45" fill="#c3c02a"/>
<circle cx="208.2" cy="548.9" r="1.45" fill="#c3c02a"/>
<circle cx="259.5" cy="623.2" r="1.45" fill="#2358b0"/>
<circle cx="206.0" cy="556.2" r="1.45" fill="#c3c02a"/>
<circle cx="236.4" cy="616.7" r="1.45" fill="#2358b0"/>
<circle cx="270.4" cy="623.2" r="1.45" fill="#2358b0"/>
<circle cx="240.8" cy="601.9" r="1.45" fill="#2358b0"/>
<circle cx="213.8" cy="624.6" r="1.45" fill="#e3262a"/>
<circle cx="266.8" cy="561.3" r="1.45" fill="#26904a"/>
<circle cx="249.6" cy="611.0" r="1.45" fill="#2358b0"/>
<circle cx="226.2" cy="626.9" r="1.45" fill="#e3262a"/>
<circle cx="200.1" cy="609.1" r="1.45" fill="#e3262a"/>
<circle cx="226.9" cy="545.8" r="1.45" fill="#c3c02a"/>
<circle cx="194.1" cy="589.3" r="1.45" fill="#c3c02a"/>
<circle cx="217.2" cy="620.4" r="1.45" fill="#e3262a"/>
<circle cx="208.6" cy="629.3" r="1.45" fill="#e3262a"/>
<circle cx="208.0" cy="625.5" r="1.45" fill="#e3262a"/>
<circle cx="260.3" cy="582.3" r="1.45" fill="#26904a"/>
<circle cx="269.4" cy="580.7" r="1.45" fill="#26904a"/>
<circle cx="204.1" cy="570.8" r="1.45" fill="#c3c02a"/>
<circle cx="207.0" cy="622.3" r="1.45" fill="#e3262a"/>
<circle cx="214.0" cy="623.5" r="1.45" fill="#e3262a"/>
<circle cx="197.4" cy="620.2" r="1.45" fill="#e3262a"/>
<circle cx="251.5" cy="615.5" r="1.45" fill="#2358b0"/>
<circle cx="209.9" cy="576.4" r="1.45" fill="#c3c02a"/>
<circle cx="275.3" cy="582.1" r="1.45" fill="#26904a"/>
<circle cx="239.3" cy="559.3" r="1.45" fill="#26904a"/>
<circle cx="214.5" cy="620.8" r="1.45" fill="#e3262a"/>
<circle cx="225.1" cy="574.6" r="1.45" fill="#c3c02a"/>
<circle cx="205.3" cy="628.0" r="1.45" fill="#e3262a"/>
<circle cx="211.6" cy="623.2" r="1.45" fill="#e3262a"/>
<circle cx="273.9" cy="585.0" r="1.45" fill="#26904a"/>
<circle cx="238.4" cy="612.2" r="1.45" fill="#2358b0"/>
<circle cx="215.4" cy="567.5" r="1.45" fill="#c3c02a"/>
<circle cx="219.3" cy="607.4" r="1.45" fill="#2358b0"/>
<circle cx="224.2" cy="577.0" r="1.45" fill="#c3c02a"/>
<circle cx="248.0" cy="613.4" r="1.45" fill="#2358b0"/>
<circle cx="248.3" cy="602.3" r="1.45" fill="#2358b0"/>
<circle cx="214.8" cy="559.6" r="1.45" fill="#c3c02a"/>
<circle cx="239.4" cy="606.3" r="1.45" fill="#2358b0"/>
<circle cx="284.3" cy="566.5" r="1.45" fill="#26904a"/>
<circle cx="254.8" cy="585.3" r="1.45" fill="#26904a"/>
<circle cx="207.8" cy="594.4" r="1.45" fill="#c3c02a"/>
<circle cx="228.3" cy="562.3" r="1.45" fill="#26904a"/>
<circle cx="214.2" cy="622.5" r="1.45" fill="#e3262a"/>
<circle cx="214.4" cy="623.2" r="1.45" fill="#e3262a"/>
<circle cx="213.3" cy="618.3" r="1.45" fill="#e3262a"/>
<circle cx="229.0" cy="566.3" r="1.45" fill="#26904a"/>
<circle cx="253.8" cy="568.8" r="1.45" fill="#26904a"/>
<circle cx="256.2" cy="555.8" r="1.45" fill="#26904a"/>
<circle cx="218.8" cy="618.9" r="1.45" fill="#e3262a"/>
<circle cx="255.3" cy="564.1" r="1.45" fill="#26904a"/>
<circle cx="258.1" cy="587.2" r="1.45" fill="#26904a"/>
<circle cx="220.2" cy="570.6" r="1.45" fill="#c3c02a"/>
<circle cx="229.3" cy="637.1" r="1.45" fill="#2358b0"/>
<circle cx="210.8" cy="569.2" r="1.45" fill="#c3c02a"/>
<circle cx="242.6" cy="625.2" r="1.45" fill="#2358b0"/>
<circle cx="241.4" cy="610.8" r="1.45" fill="#2358b0"/>
<circle cx="202.5" cy="588.7" r="1.45" fill="#c3c02a"/>
<circle cx="201.6" cy="623.8" r="1.45" fill="#e3262a"/>
<circle cx="213.5" cy="576.9" r="1.45" fill="#c3c02a"/>
<circle cx="211.3" cy="620.6" r="1.45" fill="#e3262a"/>
<circle cx="223.6" cy="618.7" r="1.45" fill="#e3262a"/>
<circle cx="247.7" cy="613.2" r="1.45" fill="#2358b0"/>
<circle cx="262.5" cy="552.7" r="1.45" fill="#26904a"/>
<circle cx="260.0" cy="546.2" r="1.45" fill="#26904a"/>
<circle cx="218.2" cy="565.0" r="1.45" fill="#c3c02a"/>
<circle cx="225.4" cy="568.9" r="1.45" fill="#c3c02a"/>
<circle cx="258.5" cy="617.3" r="1.45" fill="#2358b0"/>
<circle cx="221.6" cy="582.3" r="1.45" fill="#c3c02a"/>
<circle cx="245.1" cy="552.0" r="1.45" fill="#26904a"/>
<circle cx="275.8" cy="624.7" r="1.45" fill="#2358b0"/>
<circle cx="223.4" cy="618.8" r="1.45" fill="#e3262a"/>
<circle cx="207.8" cy="565.9" r="1.45" fill="#c3c02a"/>
<circle cx="211.0" cy="623.7" r="1.45" fill="#e3262a"/>
<circle cx="211.8" cy="614.5" r="1.45" fill="#e3262a"/>
<circle cx="219.9" cy="623.1" r="1.45" fill="#e3262a"/>
<circle cx="211.6" cy="627.3" r="1.45" fill="#e3262a"/>
<circle cx="255.6" cy="572.1" r="1.45" fill="#26904a"/>
<circle cx="257.2" cy="621.2" r="1.45" fill="#2358b0"/>
<circle cx="247.3" cy="632.4" r="1.45" fill="#2358b0"/>
<circle cx="204.6" cy="578.0" r="1.45" fill="#c3c02a"/>
<circle cx="232.8" cy="618.5" r="1.45" fill="#2358b0"/>
<circle cx="219.6" cy="570.9" r="1.45" fill="#c3c02a"/>
<circle cx="210.3" cy="569.8" r="1.45" fill="#c3c02a"/>
<circle cx="244.2" cy="612.0" r="1.45" fill="#2358b0"/>
<circle cx="238.5" cy="615.9" r="1.45" fill="#2358b0"/>
<circle cx="236.8" cy="614.4" r="1.45" fill="#2358b0"/>
<circle cx="241.4" cy="571.1" r="1.45" fill="#26904a"/>
<circle cx="220.5" cy="555.4" r="1.45" fill="#c3c02a"/>
<circle cx="236.4" cy="620.1" r="1.45" fill="#2358b0"/>
<circle cx="215.1" cy="626.9" r="1.45" fill="#e3262a"/>
<circle cx="230.3" cy="608.7" r="1.45" fill="#e3262a"/>
<circle cx="210.8" cy="620.8" r="1.45" fill="#e3262a"/>
<circle cx="218.1" cy="631.2" r="1.45" fill="#e3262a"/>
<circle cx="195.2" cy="582.6" r="1.45" fill="#c3c02a"/>
<circle cx="218.6" cy="571.8" r="1.45" fill="#c3c02a"/>
<circle cx="260.0" cy="626.5" r="1.45" fill="#2358b0"/>
<circle cx="250.0" cy="569.4" r="1.45" fill="#26904a"/>
<circle cx="203.0" cy="585.3" r="1.45" fill="#c3c02a"/>
<circle cx="256.6" cy="566.1" r="1.45" fill="#26904a"/>
<circle cx="256.9" cy="575.4" r="1.45" fill="#26904a"/>
<circle cx="195.9" cy="597.3" r="1.45" fill="#e3262a"/>
<circle cx="205.8" cy="616.2" r="1.45" fill="#e3262a"/>
<circle cx="218.8" cy="623.1" r="1.45" fill="#e3262a"/>
<circle cx="245.7" cy="618.2" r="1.45" fill="#2358b0"/>
<circle cx="259.6" cy="561.4" r="1.45" fill="#26904a"/>
<circle cx="220.5" cy="627.2" r="1.45" fill="#e3262a"/>
<circle cx="206.3" cy="617.9" r="1.45" fill="#e3262a"/>
<circle cx="217.5" cy="627.6" r="1.45" fill="#2358b0"/>
<circle cx="222.6" cy="617.9" r="1.45" fill="#e3262a"/>
<circle cx="252.0" cy="552.4" r="1.45" fill="#26904a"/>
<circle cx="219.2" cy="620.7" r="1.45" fill="#e3262a"/>
<circle cx="284.1" cy="568.7" r="1.45" fill="#26904a"/>
<circle cx="213.0" cy="619.2" r="1.45" fill="#e3262a"/>
<circle cx="209.3" cy="628.1" r="1.45" fill="#e3262a"/>
<circle cx="217.1" cy="577.3" r="1.45" fill="#c3c02a"/>
<circle cx="267.6" cy="567.5" r="1.45" fill="#26904a"/>
<circle cx="261.3" cy="616.7" r="1.45" fill="#2358b0"/>
<circle cx="192.1" cy="601.2" r="1.45" fill="#e3262a"/>
<circle cx="214.9" cy="567.7" r="1.45" fill="#c3c02a"/>
<circle cx="218.6" cy="621.8" r="1.45" fill="#e3262a"/>
<circle cx="242.8" cy="546.5" r="1.45" fill="#26904a"/>
<circle cx="217.0" cy="618.4" r="1.45" fill="#e3262a"/>
<circle cx="267.3" cy="566.8" r="1.45" fill="#26904a"/>
<circle cx="218.4" cy="558.2" r="1.45" fill="#c3c02a"/>
<circle cx="270.3" cy="568.3" r="1.45" fill="#26904a"/>
<circle cx="254.1" cy="628.2" r="1.45" fill="#2358b0"/>
<circle cx="215.3" cy="611.4" r="1.45" fill="#e3262a"/>
<circle cx="222.5" cy="620.0" r="1.45" fill="#e3262a"/>
<circle cx="229.0" cy="607.3" r="1.45" fill="#2358b0"/>
<circle cx="212.5" cy="632.3" r="1.45" fill="#e3262a"/>
<circle cx="213.8" cy="631.5" r="1.45" fill="#e3262a"/>
<circle cx="202.6" cy="633.9" r="1.45" fill="#e3262a"/>
<circle cx="256.9" cy="587.9" r="1.45" fill="#26904a"/>
<circle cx="231.0" cy="631.7" r="1.45" fill="#2358b0"/>
<circle cx="217.9" cy="622.6" r="1.45" fill="#e3262a"/>
<circle cx="212.2" cy="547.8" r="1.45" fill="#c3c02a"/>
<circle cx="260.1" cy="621.3" r="1.45" fill="#2358b0"/>
<circle cx="254.8" cy="620.8" r="1.45" fill="#2358b0"/>
<circle cx="225.8" cy="618.5" r="1.45" fill="#e3262a"/>
<circle cx="192.2" cy="613.3" r="1.45" fill="#e3262a"/>
<circle cx="209.7" cy="623.0" r="1.45" fill="#e3262a"/>
<circle cx="204.3" cy="579.0" r="1.45" fill="#c3c02a"/>
<circle cx="217.2" cy="621.5" r="1.45" fill="#e3262a"/>
<circle cx="199.2" cy="600.9" r="1.45" fill="#2358b0"/>
<circle cx="226.2" cy="558.5" r="1.45" fill="#c3c02a"/>
<circle cx="200.1" cy="592.1" r="1.45" fill="#e3262a"/>
<circle cx="203.8" cy="567.7" r="1.45" fill="#c3c02a"/>
<circle cx="261.6" cy="563.8" r="1.45" fill="#26904a"/>
<circle cx="246.8" cy="622.1" r="1.45" fill="#2358b0"/>
<circle cx="223.2" cy="563.1" r="1.45" fill="#c3c02a"/>
<circle cx="213.5" cy="624.6" r="1.45" fill="#e3262a"/>
<circle cx="280.5" cy="582.5" r="1.45" fill="#26904a"/>
<circle cx="247.5" cy="619.3" r="1.45" fill="#2358b0"/>
<circle cx="254.3" cy="633.5" r="1.45" fill="#2358b0"/>
<circle cx="268.1" cy="630.5" r="1.45" fill="#2358b0"/>
<circle cx="197.5" cy="611.7" r="1.45" fill="#e3262a"/>
<circle cx="214.2" cy="565.6" r="1.45" fill="#c3c02a"/>
<circle cx="231.7" cy="550.5" r="1.45" fill="#26904a"/>
<circle cx="245.4" cy="575.0" r="1.45" fill="#26904a"/>
<circle cx="233.2" cy="614.4" r="1.45" fill="#2358b0"/>
<circle cx="213.7" cy="611.6" r="1.45" fill="#e3262a"/>
<circle cx="205.8" cy="581.6" r="1.45" fill="#c3c02a"/>
<circle cx="258.8" cy="620.9" r="1.45" fill="#2358b0"/>
<circle cx="238.8" cy="618.5" r="1.45" fill="#2358b0"/>
<circle cx="228.9" cy="560.9" r="1.45" fill="#c3c02a"/>
<circle cx="278.0" cy="580.0" r="1.45" fill="#26904a"/>
<circle cx="215.2" cy="554.6" r="1.45" fill="#c3c02a"/>
<circle cx="245.3" cy="613.4" r="1.45" fill="#2358b0"/>
<circle cx="224.2" cy="619.5" r="1.45" fill="#e3262a"/>
<circle cx="216.7" cy="618.0" r="1.45" fill="#e3262a"/>
<circle cx="246.8" cy="628.9" r="1.45" fill="#2358b0"/>
<circle cx="218.8" cy="562.8" r="1.45" fill="#c3c02a"/>
<circle cx="200.9" cy="594.3" r="1.45" fill="#e3262a"/>
<circle cx="204.1" cy="597.0" r="1.45" fill="#e3262a"/>
<circle cx="260.8" cy="625.9" r="1.45" fill="#2358b0"/>
<circle cx="262.3" cy="560.6" r="1.45" fill="#26904a"/>
<circle cx="216.6" cy="551.8" r="1.45" fill="#c3c02a"/>
<circle cx="212.9" cy="571.9" r="1.45" fill="#c3c02a"/>
<circle cx="210.3" cy="622.0" r="1.45" fill="#e3262a"/>
<circle cx="217.1" cy="627.6" r="1.45" fill="#e3262a"/>
<circle cx="213.1" cy="552.7" r="1.45" fill="#c3c02a"/>
<circle cx="244.4" cy="550.9" r="1.45" fill="#26904a"/>
<circle cx="218.1" cy="622.2" r="1.45" fill="#e3262a"/>
<circle cx="216.5" cy="591.8" r="1.45" fill="#2358b0"/>
<circle cx="223.3" cy="560.4" r="1.45" fill="#c3c02a"/>
<circle cx="270.8" cy="617.2" r="1.45" fill="#2358b0"/>
<circle cx="245.8" cy="617.2" r="1.45" fill="#2358b0"/>
<circle cx="232.7" cy="573.8" r="1.45" fill="#c3c02a"/>
<circle cx="250.1" cy="617.7" r="1.45" fill="#2358b0"/>
<circle cx="246.6" cy="620.0" r="1.45" fill="#2358b0"/>
<circle cx="209.4" cy="555.0" r="1.45" fill="#c3c02a"/>
<circle cx="265.2" cy="553.1" r="1.45" fill="#26904a"/>
<circle cx="258.4" cy="567.0" r="1.45" fill="#26904a"/>
<circle cx="219.4" cy="565.2" r="1.45" fill="#c3c02a"/>
<circle cx="198.3" cy="564.1" r="1.45" fill="#c3c02a"/>
<circle cx="231.1" cy="630.1" r="1.45" fill="#2358b0"/>
<circle cx="273.2" cy="616.2" r="1.45" fill="#2358b0"/>
<circle cx="211.3" cy="562.2" r="1.45" fill="#c3c02a"/>
<circle cx="209.2" cy="635.2" r="1.45" fill="#e3262a"/>
<circle cx="218.1" cy="620.0" r="1.45" fill="#e3262a"/>
<circle cx="255.7" cy="601.7" r="1.45" fill="#2358b0"/>
<circle cx="239.7" cy="564.7" r="1.45" fill="#2358b0"/>
<circle cx="210.6" cy="566.7" r="1.45" fill="#c3c02a"/>
<circle cx="212.2" cy="568.6" r="1.45" fill="#c3c02a"/>
<circle cx="213.6" cy="573.9" r="1.45" fill="#c3c02a"/>
<circle cx="214.5" cy="626.6" r="1.45" fill="#e3262a"/>
<circle cx="217.1" cy="553.4" r="1.45" fill="#c3c02a"/>
<circle cx="252.9" cy="548.4" r="1.45" fill="#26904a"/>
<circle cx="226.6" cy="622.7" r="1.45" fill="#e3262a"/>
<circle cx="228.5" cy="630.0" r="1.45" fill="#e3262a"/>
<circle cx="253.9" cy="624.5" r="1.45" fill="#2358b0"/>
<circle cx="220.6" cy="568.4" r="1.45" fill="#2358b0"/>
<circle cx="217.9" cy="619.0" r="1.45" fill="#e3262a"/>
<circle cx="251.7" cy="625.6" r="1.45" fill="#2358b0"/>
<circle cx="239.1" cy="627.2" r="1.45" fill="#2358b0"/>
<circle cx="236.2" cy="571.4" r="1.45" fill="#26904a"/>
<circle cx="249.3" cy="616.4" r="1.45" fill="#2358b0"/>
<circle cx="260.1" cy="553.1" r="1.45" fill="#26904a"/>
<circle cx="215.4" cy="546.2" r="1.45" fill="#c3c02a"/>
<circle cx="227.9" cy="617.0" r="1.45" fill="#2358b0"/>
<circle cx="250.1" cy="559.4" r="1.45" fill="#26904a"/>
<circle cx="254.4" cy="554.0" r="1.45" fill="#26904a"/>
<circle cx="236.9" cy="619.8" r="1.45" fill="#2358b0"/>
<circle cx="205.0" cy="623.4" r="1.45" fill="#e3262a"/>
<circle cx="256.3" cy="613.0" r="1.45" fill="#2358b0"/>
<circle cx="252.1" cy="552.6" r="1.45" fill="#26904a"/>
<circle cx="246.3" cy="550.4" r="1.45" fill="#26904a"/>
<circle cx="210.0" cy="619.8" r="1.45" fill="#e3262a"/>
<circle cx="242.7" cy="565.4" r="1.45" fill="#26904a"/>
<circle cx="239.6" cy="626.0" r="1.45" fill="#2358b0"/>
<circle cx="255.1" cy="562.9" r="1.45" fill="#26904a"/>
<circle cx="223.6" cy="621.8" r="1.45" fill="#2358b0"/>
<circle cx="262.5" cy="567.1" r="1.45" fill="#26904a"/>
<circle cx="196.6" cy="593.6" r="1.45" fill="#c3c02a"/>
<circle cx="203.0" cy="592.6" r="1.45" fill="#e3262a"/>
<circle cx="237.1" cy="614.4" r="1.45" fill="#2358b0"/>
<circle cx="253.8" cy="616.7" r="1.45" fill="#2358b0"/>
<circle cx="261.2" cy="601.2" r="1.45" fill="#2358b0"/>
<circle cx="213.5" cy="620.1" r="1.45" fill="#e3262a"/>
<circle cx="218.9" cy="589.4" r="1.45" fill="#c3c02a"/>
<circle cx="251.7" cy="576.9" r="1.45" fill="#2358b0"/>
<circle cx="208.4" cy="595.6" r="1.45" fill="#c3c02a"/>
<circle cx="215.0" cy="622.0" r="1.45" fill="#e3262a"/>
<circle cx="209.2" cy="623.7" r="1.45" fill="#e3262a"/>
<circle cx="214.8" cy="629.9" r="1.45" fill="#e3262a"/>
<circle cx="219.8" cy="566.1" r="1.45" fill="#c3c02a"/>
<circle cx="251.1" cy="564.1" r="1.45" fill="#26904a"/>
<circle cx="206.6" cy="552.1" r="1.45" fill="#c3c02a"/>
<circle cx="270.1" cy="624.9" r="1.45" fill="#2358b0"/>
<circle cx="235.9" cy="564.4" r="1.45" fill="#26904a"/>
<circle cx="204.5" cy="589.2" r="1.45" fill="#c3c02a"/>
<circle cx="222.8" cy="564.3" r="1.45" fill="#c3c02a"/>
<circle cx="217.7" cy="623.4" r="1.45" fill="#e3262a"/>
<circle cx="215.6" cy="556.6" r="1.45" fill="#c3c02a"/>
<circle cx="259.8" cy="568.0" r="1.45" fill="#26904a"/>
<circle cx="219.7" cy="604.4" r="1.45" fill="#2358b0"/>
<circle cx="245.9" cy="622.6" r="1.45" fill="#2358b0"/>
<circle cx="214.6" cy="627.1" r="1.45" fill="#e3262a"/>
<circle cx="220.3" cy="562.2" r="1.45" fill="#c3c02a"/>
<circle cx="268.5" cy="623.1" r="1.45" fill="#2358b0"/>
<circle cx="215.2" cy="591.7" r="1.45" fill="#2358b0"/>
<circle cx="208.8" cy="622.3" r="1.45" fill="#e3262a"/>
<circle cx="245.9" cy="557.3" r="1.45" fill="#26904a"/>
<circle cx="200.8" cy="556.9" r="1.45" fill="#c3c02a"/>
<circle cx="214.0" cy="619.9" r="1.45" fill="#e3262a"/>
<circle cx="252.1" cy="568.4" r="1.45" fill="#26904a"/>
<circle cx="210.6" cy="635.0" r="1.45" fill="#e3262a"/>
<circle cx="217.9" cy="560.3" r="1.45" fill="#c3c02a"/>
<circle cx="225.0" cy="620.2" r="1.45" fill="#2358b0"/>
<circle cx="214.1" cy="628.9" r="1.45" fill="#e3262a"/>
<circle cx="208.4" cy="623.3" r="1.45" fill="#e3262a"/>
<circle cx="264.5" cy="591.2" r="1.45" fill="#26904a"/>
<circle cx="276.0" cy="574.5" r="1.45" fill="#26904a"/>
<circle cx="267.5" cy="546.1" r="1.45" fill="#26904a"/>
<circle cx="249.2" cy="621.2" r="1.45" fill="#2358b0"/>
<circle cx="216.0" cy="595.7" r="1.45" fill="#c3c02a"/>
<circle cx="272.7" cy="630.7" r="1.45" fill="#2358b0"/>
<circle cx="261.6" cy="585.6" r="1.45" fill="#26904a"/>
<circle cx="222.8" cy="562.2" r="1.45" fill="#c3c02a"/>
<circle cx="232.6" cy="578.1" r="1.45" fill="#c3c02a"/>
<circle cx="192.7" cy="614.8" r="1.45" fill="#e3262a"/>
<circle cx="195.1" cy="551.6" r="1.45" fill="#c3c02a"/>
<circle cx="209.9" cy="630.7" r="1.45" fill="#e3262a"/>
<circle cx="224.3" cy="620.8" r="1.45" fill="#e3262a"/>
<circle cx="257.6" cy="551.0" r="1.45" fill="#26904a"/>
<circle cx="214.7" cy="620.5" r="1.45" fill="#e3262a"/>
<circle cx="218.4" cy="621.6" r="1.45" fill="#e3262a"/>
<circle cx="263.6" cy="616.9" r="1.45" fill="#2358b0"/>
<circle cx="215.6" cy="629.5" r="1.45" fill="#e3262a"/>
<circle cx="210.9" cy="555.3" r="1.45" fill="#c3c02a"/>
<circle cx="251.4" cy="550.7" r="1.45" fill="#26904a"/>
<circle cx="218.3" cy="560.7" r="1.45" fill="#c3c02a"/>
<circle cx="224.4" cy="584.4" r="1.45" fill="#c3c02a"/>
<circle cx="238.8" cy="625.8" r="1.45" fill="#2358b0"/>
<path d="M223.4,538.6 L223.4,604.9 L271.3,604.9 L300,619.5" fill="none" stroke="#8c3b98" stroke-width="1.2"/>
<path d="M232.5,538.6 L232.5,582.5 Q233,589.9 240,589.9 L257,589.9 L300,612.8" fill="none" stroke="#8c3b98" stroke-width="1.2"/>
</g>
<text x="254.3" y="603.6" font-size="8.2" text-anchor="start" fill="#8c3b98" font-weight="normal" font-style="italic" >0.05</text>
<text x="280.5" y="601.0" font-size="8.2" text-anchor="start" fill="#8c3b98" font-weight="normal" font-style="italic" transform="rotate(25 280.5 601)">0.01</text>
<rect x="189.6" y="538.6" width="107.70000000000002" height="106.5" fill="none" stroke="#333" stroke-width="1.1"/>
<line x1="187.4" y1="549.4" x2="189.6" y2="549.4" stroke="#333" stroke-width="1.0" />
<text x="186.7" y="553.2" font-size="10.4" text-anchor="end" fill="#111" font-weight="normal" font-style="normal" >6</text>
<line x1="187.4" y1="571.1" x2="189.6" y2="571.1" stroke="#333" stroke-width="1.0" />
<text x="186.7" y="574.9" font-size="10.4" text-anchor="end" fill="#111" font-weight="normal" font-style="normal" >4</text>
<line x1="187.4" y1="592.8" x2="189.6" y2="592.8" stroke="#333" stroke-width="1.0" />
<text x="186.7" y="596.6" font-size="10.4" text-anchor="end" fill="#111" font-weight="normal" font-style="normal" >2</text>
<line x1="187.4" y1="614.5" x2="189.6" y2="614.5" stroke="#333" stroke-width="1.0" />
<text x="186.7" y="618.3" font-size="10.4" text-anchor="end" fill="#111" font-weight="normal" font-style="normal" >0</text>
<line x1="187.4" y1="636.2" x2="189.6" y2="636.2" stroke="#333" stroke-width="1.0" />
<text x="186.7" y="640.0" font-size="10.4" text-anchor="end" fill="#111" font-weight="normal" font-style="normal" >−2</text>
<line x1="197.2" y1="645.1" x2="197.2" y2="647.3" stroke="#333" stroke-width="1.0" />
<text x="197.2" y="656.0" font-size="10.4" text-anchor="middle" fill="#111" font-weight="normal" font-style="normal" >−2</text>
<line x1="217.9" y1="645.1" x2="217.9" y2="647.3" stroke="#333" stroke-width="1.0" />
<text x="217.9" y="656.0" font-size="10.4" text-anchor="middle" fill="#111" font-weight="normal" font-style="normal" >0</text>
<line x1="238.6" y1="645.1" x2="238.6" y2="647.3" stroke="#333" stroke-width="1.0" />
<text x="238.6" y="656.0" font-size="10.4" text-anchor="middle" fill="#111" font-weight="normal" font-style="normal" >2</text>
<line x1="259.3" y1="645.1" x2="259.3" y2="647.3" stroke="#333" stroke-width="1.0" />
<text x="259.3" y="656.0" font-size="10.4" text-anchor="middle" fill="#111" font-weight="normal" font-style="normal" >4</text>
<line x1="280.0" y1="645.1" x2="280.0" y2="647.3" stroke="#333" stroke-width="1.0" />
<text x="280.0" y="656.0" font-size="10.4" text-anchor="middle" fill="#111" font-weight="normal" font-style="normal" >6</text>
<text x="244.0" y="665.0" font-size="10.0" text-anchor="middle" fill="#111" font-weight="normal" font-style="normal" >Peptide D-score</text>
<text x="175.2" y="597.6" font-size="10.0" text-anchor="middle" fill="#111" font-weight="normal" font-style="normal" transform="rotate(-90 175.2 597.6)">Glycan D-score</text>
<text x="155.8" y="683.0" font-size="11.2" text-anchor="middle" fill="#111" font-weight="normal" font-style="normal" >2D FDR Estimation</text>
<line x1="323.3" y1="555.3" x2="354.9" y2="559.4" stroke="#cf1424" stroke-width="0.8" />
<line x1="323.3" y1="555.3" x2="354.9" y2="640.7" stroke="#cf1424" stroke-width="0.8" />
<line x1="323.3" y1="576.3" x2="354.9" y2="559.4" stroke="#cf1424" stroke-width="0.8" />
<line x1="323.3" y1="576.3" x2="354.9" y2="640.7" stroke="#cf1424" stroke-width="0.8" />
<line x1="323.3" y1="596.2" x2="354.9" y2="539.5" stroke="#cf1424" stroke-width="0.8" />
<line x1="323.3" y1="596.2" x2="354.9" y2="559.4" stroke="#cf1424" stroke-width="0.8" />
<line x1="323.3" y1="596.2" x2="354.9" y2="640.7" stroke="#cf1424" stroke-width="0.8" />
<line x1="323.3" y1="622.7" x2="354.9" y2="539.5" stroke="#cf1424" stroke-width="0.8" />
<line x1="323.3" y1="622.7" x2="354.9" y2="559.4" stroke="#cf1424" stroke-width="0.8" />
<line x1="323.3" y1="622.7" x2="354.9" y2="640.7" stroke="#cf1424" stroke-width="0.8" />
<line x1="323.3" y1="555.3" x2="354.9" y2="539.5" stroke="#4e8a34" stroke-width="0.8" />
<line x1="323.3" y1="576.3" x2="354.9" y2="539.5" stroke="#4e8a34" stroke-width="0.8" />
<circle cx="323.3" cy="555.3" r="2.2" fill="#5a9640"/>
<circle cx="323.3" cy="576.3" r="2.2" fill="#5a9640"/>
<circle cx="323.3" cy="596.2" r="2.2" fill="#c8101e"/>
<circle cx="323.3" cy="622.7" r="2.2" fill="#c8101e"/>
<path d="M357.3,540.8 L359.6,543.1 L364.0,538.4" fill="none" stroke="#3f802c" stroke-width="2.1"/>
<path d="M357.6,558.7 L362.2,563.3 M362.2,558.7 L357.6,563.3" stroke="#c4000f" stroke-width="2.2"/>
<path d="M357.6,640.0 L362.2,644.5999999999999 M362.2,640.0 L357.6,644.5999999999999" stroke="#c4000f" stroke-width="2.2"/>
<circle cx="342.9" cy="592.1" r="0.85" fill="#222"/>
<circle cx="342.9" cy="596.6" r="0.85" fill="#222"/>
<circle cx="342.9" cy="601.1" r="0.85" fill="#222"/>
<text x="318.1" y="593.0" font-size="11.0" text-anchor="middle" fill="#111" font-weight="normal" font-style="normal" transform="rotate(-90 318.1 593.0)">Transitions</text>
<text x="372.9" y="590.4" font-size="11.0" text-anchor="middle" fill="#111" font-weight="normal" font-style="normal" transform="rotate(-90 372.9 590.4)">Glycoforms</text>
<text x="339.2" y="666.7" font-size="11.0" text-anchor="middle" fill="#111" font-weight="normal" font-style="normal" >Glycoform</text>
<text x="339.5" y="683.5" font-size="11.0" text-anchor="middle" fill="#111" font-weight="normal" font-style="normal" >Inference</text>
<text x="382.4" y="511.4" font-size="13.5" text-anchor="start" fill="#111" font-weight="bold" font-style="normal" >e</text>
<text x="413.6" y="511.4" font-size="11.4" text-anchor="start" fill="#111" font-weight="normal" font-style="normal" >Multi -run Alignment</text>
<polygon points="384.2,582.1 400.0,582.1 400.0,571.1 414.2,592.0 400.0,612.8 400.0,602.7 384.2,602.7" fill="#d5dce7" />
<polygon points="452.2,539.5 495.8,539.5 493.6,586.4 526.4,615.1 495.7,642.8 450.5,642.8 468.0,615.1 452.2,588.5" fill="#e0eed6" />
<line x1="434.8" y1="562.2" x2="539.0" y2="562.2" stroke="#6a9660" stroke-width="1.5" />
<path d="M445.6,562.2 L446.2,562.2 L446.9,562.2 L447.5,562.1 L448.2,562.1 L448.8,562.1 L449.5,562.1 L450.1,562.1 L450.8,562.0 L451.4,562.0 L452.1,562.0 L452.8,561.9 L453.4,561.9 L454.1,561.8 L454.7,561.7 L455.4,561.6 L456.0,561.5 L456.7,561.4 L457.3,561.3 L458.0,561.2 L458.6,561.0 L459.3,560.9 L459.9,560.7 L460.6,560.5 L461.3,560.3 L461.9,560.2 L462.6,560.0 L463.2,559.8 L463.9,559.6 L464.5,559.3 L465.2,559.2 L465.8,559.0 L466.5,558.8 L467.1,558.6 L467.8,558.5 L468.4,558.3 L469.1,558.2 L469.7,558.1 L470.4,558.1 L471.1,558.0 L471.7,558.0 L472.4,558.0 L473.0,558.1 L473.7,558.1 L474.3,558.2 L475.0,558.3 L475.6,558.5 L476.3,558.6 L476.9,558.8 L477.6,559.0 L478.2,559.2 L478.9,559.3 L479.6,559.6 L480.2,559.8 L480.9,560.0 L481.5,560.2 L482.2,560.3 L482.8,560.5 L483.5,560.7 L484.1,560.9 L484.8,561.0 L485.4,561.2 L486.1,561.3 L486.7,561.4 L487.4,561.5 L488.1,561.6 L488.7,561.7 L489.4,561.8 L490.0,561.9 L490.7,561.9 L491.3,562.0 L492.0,562.0 L492.6,562.0 L493.3,562.1 L493.9,562.1 L494.6,562.1 L495.2,562.1 L495.9,562.1 L496.5,562.2 L497.2,562.2 L497.9,562.2" fill="none" stroke="#6fb84c" stroke-width="1.0" opacity="1" stroke-linejoin="round"/>
<path d="M446.7,562.2 L447.3,562.2 L447.9,562.1 L448.5,562.1 L449.2,562.1 L449.8,562.1 L450.4,562.1 L451.0,562.0 L451.7,562.0 L452.3,562.0 L452.9,561.9 L453.5,561.8 L454.2,561.8 L454.8,561.7 L455.4,561.6 L456.1,561.5 L456.7,561.4 L457.3,561.2 L457.9,561.1 L458.6,560.9 L459.2,560.8 L459.8,560.6 L460.4,560.4 L461.1,560.1 L461.7,559.9 L462.3,559.7 L462.9,559.4 L463.6,559.2 L464.2,558.9 L464.8,558.7 L465.4,558.4 L466.1,558.2 L466.7,558.0 L467.3,557.8 L468.0,557.6 L468.6,557.4 L469.2,557.3 L469.8,557.1 L470.5,557.1 L471.1,557.0 L471.7,557.0 L472.3,557.0 L473.0,557.1 L473.6,557.1 L474.2,557.3 L474.8,557.4 L475.5,557.6 L476.1,557.8 L476.7,558.0 L477.3,558.2 L478.0,558.4 L478.6,558.7 L479.2,558.9 L479.9,559.2 L480.5,559.4 L481.1,559.7 L481.7,559.9 L482.4,560.1 L483.0,560.4 L483.6,560.6 L484.2,560.8 L484.9,560.9 L485.5,561.1 L486.1,561.2 L486.7,561.4 L487.4,561.5 L488.0,561.6 L488.6,561.7 L489.2,561.8 L489.9,561.8 L490.5,561.9 L491.1,562.0 L491.8,562.0 L492.4,562.0 L493.0,562.1 L493.6,562.1 L494.3,562.1 L494.9,562.1 L495.5,562.1 L496.1,562.2 L496.8,562.2" fill="none" stroke="#58a83a" stroke-width="1.0" opacity="1" stroke-linejoin="round"/>
<path d="M447.7,562.2 L448.3,562.2 L448.9,562.1 L449.5,562.1 L450.1,562.1 L450.7,562.1 L451.3,562.0 L451.9,562.0 L452.5,562.0 L453.1,561.9 L453.7,561.9 L454.3,561.8 L454.9,561.7 L455.5,561.6 L456.1,561.5 L456.7,561.4 L457.3,561.2 L457.9,561.1 L458.5,560.9 L459.1,560.7 L459.7,560.5 L460.3,560.2 L460.9,560.0 L461.5,559.7 L462.1,559.5 L462.7,559.2 L463.3,558.9 L463.9,558.6 L464.5,558.3 L465.1,558.0 L465.7,557.7 L466.3,557.4 L466.9,557.1 L467.5,556.9 L468.1,556.7 L468.7,556.5 L469.3,556.3 L469.9,556.2 L470.5,556.1 L471.1,556.0 L471.7,556.0 L472.3,556.0 L472.9,556.1 L473.5,556.2 L474.1,556.3 L474.7,556.5 L475.3,556.7 L475.9,556.9 L476.5,557.1 L477.1,557.4 L477.7,557.7 L478.3,558.0 L478.9,558.3 L479.5,558.6 L480.1,558.9 L480.7,559.2 L481.3,559.5 L481.9,559.7 L482.5,560.0 L483.1,560.2 L483.7,560.5 L484.3,560.7 L484.9,560.9 L485.5,561.1 L486.1,561.2 L486.7,561.4 L487.3,561.5 L487.9,561.6 L488.5,561.7 L489.1,561.8 L489.7,561.9 L490.3,561.9 L490.9,562.0 L491.5,562.0 L492.1,562.0 L492.7,562.1 L493.3,562.1 L493.9,562.1 L494.5,562.1 L495.1,562.2 L495.7,562.2" fill="none" stroke="#7f9656" stroke-width="1.0" opacity="1" stroke-linejoin="round"/>
<path d="M447.7,562.2 L448.3,562.1 L448.9,562.1 L449.5,562.1 L450.1,562.1 L450.7,562.1 L451.3,562.0 L451.9,562.0 L452.5,561.9 L453.1,561.9 L453.7,561.8 L454.3,561.7 L454.9,561.6 L455.5,561.5 L456.1,561.4 L456.7,561.2 L457.3,561.1 L457.9,560.9 L458.5,560.7 L459.1,560.4 L459.7,560.2 L460.3,559.9 L460.9,559.6 L461.5,559.3 L462.1,559.0 L462.7,558.7 L463.3,558.4 L463.9,558.0 L464.5,557.7 L465.1,557.3 L465.7,557.0 L466.3,556.6 L466.9,556.3 L467.5,556.0 L468.1,555.8 L468.7,555.6 L469.3,555.4 L469.9,555.2 L470.5,555.1 L471.1,555.0 L471.7,555.0 L472.3,555.0 L472.9,555.1 L473.5,555.2 L474.1,555.4 L474.7,555.6 L475.3,555.8 L475.9,556.0 L476.5,556.3 L477.1,556.6 L477.7,557.0 L478.3,557.3 L478.9,557.7 L479.5,558.0 L480.1,558.4 L480.7,558.7 L481.3,559.0 L481.9,559.3 L482.5,559.6 L483.1,559.9 L483.7,560.2 L484.3,560.4 L484.9,560.7 L485.5,560.9 L486.1,561.1 L486.7,561.2 L487.3,561.4 L487.9,561.5 L488.5,561.6 L489.1,561.7 L489.7,561.8 L490.3,561.9 L490.9,561.9 L491.5,562.0 L492.1,562.0 L492.7,562.1 L493.3,562.1 L493.9,562.1 L494.5,562.1 L495.1,562.1 L495.7,562.2" fill="none" stroke="#6a8050" stroke-width="1.0" opacity="1" stroke-linejoin="round"/>
<path d="M448.8,562.1 L449.4,562.1 L450.0,562.1 L450.5,562.1 L451.1,562.0 L451.7,562.0 L452.3,562.0 L452.8,561.9 L453.4,561.8 L454.0,561.8 L454.6,561.7 L455.1,561.5 L455.7,561.4 L456.3,561.3 L456.8,561.1 L457.4,560.9 L458.0,560.7 L458.6,560.4 L459.1,560.2 L459.7,559.9 L460.3,559.5 L460.8,559.2 L461.4,558.8 L462.0,558.4 L462.6,558.0 L463.1,557.5 L463.7,557.1 L464.3,556.6 L464.8,556.1 L465.4,555.7 L466.0,555.2 L466.6,554.8 L467.1,554.4 L467.7,554.0 L468.3,553.6 L468.9,553.3 L469.4,553.1 L470.0,552.9 L470.6,552.7 L471.1,552.6 L471.7,552.6 L472.3,552.6 L472.9,552.7 L473.4,552.9 L474.0,553.1 L474.6,553.3 L475.1,553.6 L475.7,554.0 L476.3,554.4 L476.9,554.8 L477.4,555.2 L478.0,555.7 L478.6,556.1 L479.1,556.6 L479.7,557.1 L480.3,557.5 L480.9,558.0 L481.4,558.4 L482.0,558.8 L482.6,559.2 L483.1,559.5 L483.7,559.9 L484.3,560.2 L484.9,560.4 L485.4,560.7 L486.0,560.9 L486.6,561.1 L487.2,561.3 L487.7,561.4 L488.3,561.5 L488.9,561.7 L489.4,561.8 L490.0,561.8 L490.6,561.9 L491.2,562.0 L491.7,562.0 L492.3,562.0 L492.9,562.1 L493.4,562.1 L494.0,562.1 L494.6,562.1" fill="none" stroke="#4a663a" stroke-width="1.1" opacity="1" stroke-linejoin="round"/>
<path d="M449.9,562.1 L450.5,562.0 L451.0,562.0 L451.6,561.9 L452.1,561.9 L452.6,561.8 L453.2,561.7 L453.7,561.6 L454.3,561.4 L454.8,561.3 L455.4,561.1 L455.9,560.8 L456.5,560.6 L457.0,560.2 L457.5,559.9 L458.1,559.5 L458.6,559.0 L459.2,558.5 L459.7,557.9 L460.3,557.3 L460.8,556.6 L461.4,555.8 L461.9,555.0 L462.5,554.2 L463.0,553.3 L463.5,552.4 L464.1,551.4 L464.6,550.4 L465.2,549.5 L465.7,548.5 L466.3,547.5 L466.8,546.6 L467.4,545.7 L467.9,544.9 L468.4,544.2 L469.0,543.6 L469.5,543.0 L470.1,542.6 L470.6,542.3 L471.2,542.1 L471.7,542.0 L472.3,542.1 L472.8,542.3 L473.3,542.6 L473.9,543.0 L474.4,543.6 L475.0,544.2 L475.5,544.9 L476.1,545.7 L476.6,546.6 L477.2,547.5 L477.7,548.5 L478.2,549.5 L478.8,550.4 L479.3,551.4 L479.9,552.4 L480.4,553.3 L481.0,554.2 L481.5,555.0 L482.1,555.8 L482.6,556.6 L483.1,557.3 L483.7,557.9 L484.2,558.5 L484.8,559.0 L485.3,559.5 L485.9,559.9 L486.4,560.2 L487.0,560.6 L487.5,560.8 L488.1,561.1 L488.6,561.3 L489.1,561.4 L489.7,561.6 L490.2,561.7 L490.8,561.8 L491.3,561.9 L491.9,561.9 L492.4,562.0 L493.0,562.0 L493.5,562.1" fill="none" stroke="#2d5a31" stroke-width="1.4" opacity="1" stroke-linejoin="round"/>
<line x1="434.8" y1="587.8" x2="539.0" y2="587.8" stroke="#6a9660" stroke-width="1.5" />
<path d="M440.7,587.8 L441.3,587.8 L442.0,587.8 L442.6,587.7 L443.2,587.7 L443.9,587.7 L444.5,587.7 L445.1,587.7 L445.7,587.6 L446.4,587.6 L447.0,587.6 L447.6,587.5 L448.3,587.5 L448.9,587.4 L449.5,587.3 L450.1,587.2 L450.8,587.1 L451.4,587.0 L452.0,586.9 L452.6,586.8 L453.3,586.6 L453.9,586.5 L454.5,586.3 L455.2,586.1 L455.8,585.9 L456.4,585.8 L457.0,585.6 L457.7,585.4 L458.3,585.2 L458.9,584.9 L459.6,584.8 L460.2,584.6 L460.8,584.4 L461.4,584.2 L462.1,584.1 L462.7,583.9 L463.3,583.8 L464.0,583.7 L464.6,583.7 L465.2,583.6 L465.8,583.6 L466.5,583.6 L467.1,583.7 L467.7,583.7 L468.3,583.8 L469.0,583.9 L469.6,584.1 L470.2,584.2 L470.9,584.4 L471.5,584.6 L472.1,584.8 L472.7,584.9 L473.4,585.2 L474.0,585.4 L474.6,585.6 L475.3,585.8 L475.9,585.9 L476.5,586.1 L477.1,586.3 L477.8,586.5 L478.4,586.6 L479.0,586.8 L479.7,586.9 L480.3,587.0 L480.9,587.1 L481.5,587.2 L482.2,587.3 L482.8,587.4 L483.4,587.5 L484.0,587.5 L484.7,587.6 L485.3,587.6 L485.9,587.6 L486.6,587.7 L487.2,587.7 L487.8,587.7 L488.4,587.7 L489.1,587.7 L489.7,587.8 L490.3,587.8 L491.0,587.8" fill="none" stroke="#6fb84c" stroke-width="1.0" opacity="1" stroke-linejoin="round"/>
<path d="M441.8,587.8 L442.4,587.8 L443.0,587.7 L443.6,587.7 L444.2,587.7 L444.8,587.7 L445.4,587.7 L446.0,587.6 L446.6,587.6 L447.2,587.6 L447.8,587.5 L448.4,587.4 L449.0,587.4 L449.6,587.3 L450.2,587.2 L450.8,587.1 L451.4,587.0 L452.0,586.8 L452.6,586.7 L453.2,586.5 L453.8,586.4 L454.4,586.2 L455.0,586.0 L455.6,585.7 L456.2,585.5 L456.8,585.3 L457.4,585.0 L458.0,584.8 L458.6,584.5 L459.2,584.3 L459.8,584.0 L460.4,583.8 L461.0,583.6 L461.6,583.4 L462.2,583.2 L462.8,583.0 L463.4,582.9 L464.0,582.7 L464.6,582.7 L465.2,582.6 L465.8,582.6 L466.4,582.6 L467.0,582.7 L467.6,582.7 L468.2,582.9 L468.8,583.0 L469.4,583.2 L470.0,583.4 L470.7,583.6 L471.3,583.8 L471.9,584.0 L472.5,584.3 L473.1,584.5 L473.7,584.8 L474.3,585.0 L474.9,585.3 L475.5,585.5 L476.1,585.7 L476.7,586.0 L477.3,586.2 L477.9,586.4 L478.5,586.5 L479.1,586.7 L479.7,586.8 L480.3,587.0 L480.9,587.1 L481.5,587.2 L482.1,587.3 L482.7,587.4 L483.3,587.4 L483.9,587.5 L484.5,587.6 L485.1,587.6 L485.7,587.6 L486.3,587.7 L486.9,587.7 L487.5,587.7 L488.1,587.7 L488.7,587.7 L489.3,587.8 L489.9,587.8" fill="none" stroke="#58a83a" stroke-width="1.0" opacity="1" stroke-linejoin="round"/>
<path d="M442.8,587.8 L443.4,587.8 L444.0,587.7 L444.5,587.7 L445.1,587.7 L445.7,587.7 L446.3,587.6 L446.8,587.6 L447.4,587.6 L448.0,587.5 L448.6,587.5 L449.1,587.4 L449.7,587.3 L450.3,587.2 L450.9,587.1 L451.4,587.0 L452.0,586.8 L452.6,586.7 L453.2,586.5 L453.7,586.3 L454.3,586.1 L454.9,585.8 L455.5,585.6 L456.0,585.3 L456.6,585.1 L457.2,584.8 L457.8,584.5 L458.4,584.2 L458.9,583.9 L459.5,583.6 L460.1,583.3 L460.7,583.0 L461.2,582.7 L461.8,582.5 L462.4,582.3 L463.0,582.1 L463.5,581.9 L464.1,581.8 L464.7,581.7 L465.3,581.6 L465.8,581.6 L466.4,581.6 L467.0,581.7 L467.6,581.8 L468.1,581.9 L468.7,582.1 L469.3,582.3 L469.9,582.5 L470.4,582.7 L471.0,583.0 L471.6,583.3 L472.2,583.6 L472.7,583.9 L473.3,584.2 L473.9,584.5 L474.5,584.8 L475.0,585.1 L475.6,585.3 L476.2,585.6 L476.8,585.8 L477.3,586.1 L477.9,586.3 L478.5,586.5 L479.1,586.7 L479.7,586.8 L480.2,587.0 L480.8,587.1 L481.4,587.2 L482.0,587.3 L482.5,587.4 L483.1,587.5 L483.7,587.5 L484.3,587.6 L484.8,587.6 L485.4,587.6 L486.0,587.7 L486.6,587.7 L487.1,587.7 L487.7,587.7 L488.3,587.8 L488.9,587.8" fill="none" stroke="#7f9656" stroke-width="1.0" opacity="1" stroke-linejoin="round"/>
<path d="M442.8,587.8 L443.4,587.7 L444.0,587.7 L444.5,587.7 L445.1,587.7 L445.7,587.7 L446.3,587.6 L446.8,587.6 L447.4,587.5 L448.0,587.5 L448.6,587.4 L449.1,587.3 L449.7,587.2 L450.3,587.1 L450.9,587.0 L451.4,586.8 L452.0,586.7 L452.6,586.5 L453.2,586.3 L453.7,586.0 L454.3,585.8 L454.9,585.5 L455.5,585.2 L456.0,584.9 L456.6,584.6 L457.2,584.3 L457.8,584.0 L458.4,583.6 L458.9,583.3 L459.5,582.9 L460.1,582.6 L460.7,582.2 L461.2,581.9 L461.8,581.6 L462.4,581.4 L463.0,581.2 L463.5,581.0 L464.1,580.8 L464.7,580.7 L465.3,580.6 L465.8,580.6 L466.4,580.6 L467.0,580.7 L467.6,580.8 L468.1,581.0 L468.7,581.2 L469.3,581.4 L469.9,581.6 L470.4,581.9 L471.0,582.2 L471.6,582.6 L472.2,582.9 L472.7,583.3 L473.3,583.6 L473.9,584.0 L474.5,584.3 L475.0,584.6 L475.6,584.9 L476.2,585.2 L476.8,585.5 L477.3,585.8 L477.9,586.0 L478.5,586.3 L479.1,586.5 L479.7,586.7 L480.2,586.8 L480.8,587.0 L481.4,587.1 L482.0,587.2 L482.5,587.3 L483.1,587.4 L483.7,587.5 L484.3,587.5 L484.8,587.6 L485.4,587.6 L486.0,587.7 L486.6,587.7 L487.1,587.7 L487.7,587.7 L488.3,587.7 L488.9,587.8" fill="none" stroke="#6a8050" stroke-width="1.0" opacity="1" stroke-linejoin="round"/>
<path d="M443.9,587.7 L444.4,587.7 L445.0,587.7 L445.5,587.7 L446.1,587.6 L446.6,587.6 L447.2,587.6 L447.7,587.5 L448.3,587.4 L448.8,587.4 L449.4,587.3 L449.9,587.1 L450.5,587.0 L451.0,586.9 L451.5,586.7 L452.1,586.5 L452.6,586.3 L453.2,586.0 L453.7,585.8 L454.3,585.5 L454.8,585.1 L455.4,584.8 L455.9,584.4 L456.5,584.0 L457.0,583.6 L457.6,583.1 L458.1,582.7 L458.7,582.2 L459.2,581.7 L459.8,581.3 L460.3,580.8 L460.9,580.4 L461.4,580.0 L462.0,579.6 L462.5,579.2 L463.1,578.9 L463.6,578.7 L464.2,578.5 L464.7,578.3 L465.3,578.2 L465.8,578.2 L466.4,578.2 L466.9,578.3 L467.5,578.5 L468.0,578.7 L468.6,578.9 L469.1,579.2 L469.7,579.6 L470.2,580.0 L470.8,580.4 L471.3,580.8 L471.9,581.3 L472.4,581.7 L473.0,582.2 L473.5,582.7 L474.1,583.1 L474.6,583.6 L475.2,584.0 L475.7,584.4 L476.3,584.8 L476.8,585.1 L477.4,585.5 L477.9,585.8 L478.5,586.0 L479.0,586.3 L479.6,586.5 L480.1,586.7 L480.7,586.9 L481.2,587.0 L481.8,587.1 L482.3,587.3 L482.9,587.4 L483.4,587.4 L484.0,587.5 L484.5,587.6 L485.1,587.6 L485.6,587.6 L486.2,587.7 L486.7,587.7 L487.3,587.7 L487.8,587.7" fill="none" stroke="#4a663a" stroke-width="1.1" opacity="1" stroke-linejoin="round"/>
<path d="M444.9,587.7 L445.4,587.6 L445.9,587.6 L446.5,587.6 L447.0,587.5 L447.5,587.4 L448.0,587.3 L448.6,587.2 L449.1,587.0 L449.6,586.9 L450.1,586.7 L450.7,586.5 L451.2,586.2 L451.7,585.9 L452.2,585.5 L452.8,585.1 L453.3,584.6 L453.8,584.1 L454.3,583.6 L454.8,582.9 L455.4,582.3 L455.9,581.5 L456.4,580.7 L456.9,579.9 L457.5,579.0 L458.0,578.1 L458.5,577.2 L459.0,576.2 L459.6,575.2 L460.1,574.3 L460.6,573.3 L461.1,572.4 L461.6,571.6 L462.2,570.8 L462.7,570.1 L463.2,569.4 L463.7,568.9 L464.3,568.5 L464.8,568.2 L465.3,568.0 L465.8,567.9 L466.4,568.0 L466.9,568.2 L467.4,568.5 L467.9,568.9 L468.5,569.4 L469.0,570.1 L469.5,570.8 L470.0,571.6 L470.5,572.4 L471.1,573.3 L471.6,574.3 L472.1,575.2 L472.6,576.2 L473.2,577.2 L473.7,578.1 L474.2,579.0 L474.7,579.9 L475.3,580.7 L475.8,581.5 L476.3,582.3 L476.8,582.9 L477.3,583.6 L477.9,584.1 L478.4,584.6 L478.9,585.1 L479.4,585.5 L480.0,585.9 L480.5,586.2 L481.0,586.5 L481.5,586.7 L482.1,586.9 L482.6,587.0 L483.1,587.2 L483.6,587.3 L484.2,587.4 L484.7,587.5 L485.2,587.6 L485.7,587.6 L486.2,587.6 L486.8,587.7" fill="none" stroke="#2d5a31" stroke-width="1.4" opacity="1" stroke-linejoin="round"/>
<line x1="434.8" y1="615.3" x2="539.0" y2="615.3" stroke="#6a9660" stroke-width="1.5" />
<path d="M465.0,615.3 L465.9,615.3 L466.8,615.3 L467.7,615.2 L468.7,615.2 L469.6,615.2 L470.5,615.2 L471.4,615.2 L472.4,615.1 L473.3,615.1 L474.2,615.1 L475.1,615.0 L476.0,615.0 L477.0,614.9 L477.9,614.8 L478.8,614.7 L479.7,614.6 L480.7,614.5 L481.6,614.4 L482.5,614.3 L483.4,614.1 L484.3,614.0 L485.3,613.8 L486.2,613.6 L487.1,613.4 L488.0,613.3 L489.0,613.1 L489.9,612.9 L490.8,612.7 L491.7,612.4 L492.7,612.3 L493.6,612.1 L494.5,611.9 L495.4,611.7 L496.3,611.6 L497.3,611.4 L498.2,611.3 L499.1,611.2 L500.0,611.2 L501.0,611.1 L501.9,611.1 L502.8,611.1 L503.7,611.2 L504.6,611.2 L505.6,611.3 L506.5,611.4 L507.4,611.6 L508.3,611.7 L509.3,611.9 L510.2,612.1 L511.1,612.3 L512.0,612.4 L513.0,612.7 L513.9,612.9 L514.8,613.1 L515.7,613.3 L516.6,613.4 L517.6,613.6 L518.5,613.8 L519.4,614.0 L520.3,614.1 L521.3,614.3 L522.2,614.4 L523.1,614.5 L524.0,614.6 L524.9,614.7 L525.9,614.8 L526.8,614.9 L527.7,615.0 L528.6,615.0 L529.6,615.1 L530.5,615.1 L531.4,615.1 L532.3,615.2 L533.3,615.2 L534.2,615.2 L535.1,615.2 L536.0,615.2 L536.9,615.3 L537.9,615.3 L538.8,615.3" fill="none" stroke="#6fb84c" stroke-width="1.0" opacity="1" stroke-linejoin="round"/>
<path d="M466.5,615.3 L467.4,615.3 L468.3,615.2 L469.2,615.2 L470.0,615.2 L470.9,615.2 L471.8,615.2 L472.7,615.1 L473.6,615.1 L474.5,615.1 L475.4,615.0 L476.2,614.9 L477.1,614.9 L478.0,614.8 L478.9,614.7 L479.8,614.6 L480.7,614.5 L481.5,614.3 L482.4,614.2 L483.3,614.0 L484.2,613.9 L485.1,613.7 L486.0,613.5 L486.8,613.2 L487.7,613.0 L488.6,612.8 L489.5,612.5 L490.4,612.3 L491.3,612.0 L492.2,611.8 L493.0,611.5 L493.9,611.3 L494.8,611.1 L495.7,610.9 L496.6,610.7 L497.5,610.5 L498.3,610.4 L499.2,610.2 L500.1,610.2 L501.0,610.1 L501.9,610.1 L502.8,610.1 L503.6,610.2 L504.5,610.2 L505.4,610.4 L506.3,610.5 L507.2,610.7 L508.1,610.9 L509.0,611.1 L509.8,611.3 L510.7,611.5 L511.6,611.8 L512.5,612.0 L513.4,612.3 L514.3,612.5 L515.1,612.8 L516.0,613.0 L516.9,613.2 L517.8,613.5 L518.7,613.7 L519.6,613.9 L520.5,614.0 L521.3,614.2 L522.2,614.3 L523.1,614.5 L524.0,614.6 L524.9,614.7 L525.8,614.8 L526.6,614.9 L527.5,614.9 L528.4,615.0 L529.3,615.1 L530.2,615.1 L531.1,615.1 L531.9,615.2 L532.8,615.2 L533.7,615.2 L534.6,615.2 L535.5,615.2 L536.4,615.3 L537.3,615.3" fill="none" stroke="#58a83a" stroke-width="1.0" opacity="1" stroke-linejoin="round"/>
<path d="M468.0,615.3 L468.9,615.3 L469.7,615.2 L470.6,615.2 L471.4,615.2 L472.3,615.2 L473.1,615.1 L474.0,615.1 L474.8,615.1 L475.7,615.0 L476.5,615.0 L477.4,614.9 L478.2,614.8 L479.0,614.7 L479.9,614.6 L480.7,614.5 L481.6,614.3 L482.4,614.2 L483.3,614.0 L484.1,613.8 L485.0,613.6 L485.8,613.3 L486.7,613.1 L487.5,612.8 L488.3,612.6 L489.2,612.3 L490.0,612.0 L490.9,611.7 L491.7,611.4 L492.6,611.1 L493.4,610.8 L494.3,610.5 L495.1,610.2 L496.0,610.0 L496.8,609.8 L497.7,609.6 L498.5,609.4 L499.3,609.3 L500.2,609.2 L501.0,609.1 L501.9,609.1 L502.7,609.1 L503.6,609.2 L504.4,609.3 L505.3,609.4 L506.1,609.6 L507.0,609.8 L507.8,610.0 L508.6,610.2 L509.5,610.5 L510.3,610.8 L511.2,611.1 L512.0,611.4 L512.9,611.7 L513.7,612.0 L514.6,612.3 L515.4,612.6 L516.3,612.8 L517.1,613.1 L518.0,613.3 L518.8,613.6 L519.6,613.8 L520.5,614.0 L521.3,614.2 L522.2,614.3 L523.0,614.5 L523.9,614.6 L524.7,614.7 L525.6,614.8 L526.4,614.9 L527.3,615.0 L528.1,615.0 L528.9,615.1 L529.8,615.1 L530.6,615.1 L531.5,615.2 L532.3,615.2 L533.2,615.2 L534.0,615.2 L534.9,615.3 L535.7,615.3" fill="none" stroke="#7f9656" stroke-width="1.0" opacity="1" stroke-linejoin="round"/>
<path d="M468.0,615.3 L468.9,615.2 L469.7,615.2 L470.6,615.2 L471.4,615.2 L472.3,615.2 L473.1,615.1 L474.0,615.1 L474.8,615.0 L475.7,615.0 L476.5,614.9 L477.4,614.8 L478.2,614.7 L479.0,614.6 L479.9,614.5 L480.7,614.3 L481.6,614.2 L482.4,614.0 L483.3,613.8 L484.1,613.5 L485.0,613.3 L485.8,613.0 L486.7,612.7 L487.5,612.4 L488.3,612.1 L489.2,611.8 L490.0,611.5 L490.9,611.1 L491.7,610.8 L492.6,610.4 L493.4,610.1 L494.3,609.7 L495.1,609.4 L496.0,609.1 L496.8,608.9 L497.7,608.7 L498.5,608.5 L499.3,608.3 L500.2,608.2 L501.0,608.1 L501.9,608.1 L502.7,608.1 L503.6,608.2 L504.4,608.3 L505.3,608.5 L506.1,608.7 L507.0,608.9 L507.8,609.1 L508.6,609.4 L509.5,609.7 L510.3,610.1 L511.2,610.4 L512.0,610.8 L512.9,611.1 L513.7,611.5 L514.6,611.8 L515.4,612.1 L516.3,612.4 L517.1,612.7 L518.0,613.0 L518.8,613.3 L519.6,613.5 L520.5,613.8 L521.3,614.0 L522.2,614.2 L523.0,614.3 L523.9,614.5 L524.7,614.6 L525.6,614.7 L526.4,614.8 L527.3,614.9 L528.1,615.0 L528.9,615.0 L529.8,615.1 L530.6,615.1 L531.5,615.2 L532.3,615.2 L533.2,615.2 L534.0,615.2 L534.9,615.2 L535.7,615.3" fill="none" stroke="#6a8050" stroke-width="1.0" opacity="1" stroke-linejoin="round"/>
<path d="M469.6,615.2 L470.4,615.2 L471.2,615.2 L472.0,615.2 L472.8,615.1 L473.6,615.1 L474.4,615.1 L475.2,615.0 L476.0,614.9 L476.9,614.9 L477.7,614.8 L478.5,614.6 L479.3,614.5 L480.1,614.4 L480.9,614.2 L481.7,614.0 L482.5,613.8 L483.3,613.5 L484.1,613.3 L484.9,613.0 L485.7,612.6 L486.5,612.3 L487.3,611.9 L488.2,611.5 L489.0,611.1 L489.8,610.6 L490.6,610.2 L491.4,609.7 L492.2,609.2 L493.0,608.8 L493.8,608.3 L494.6,607.9 L495.4,607.5 L496.2,607.1 L497.0,606.7 L497.8,606.4 L498.7,606.2 L499.5,606.0 L500.3,605.8 L501.1,605.7 L501.9,605.7 L502.7,605.7 L503.5,605.8 L504.3,606.0 L505.1,606.2 L505.9,606.4 L506.7,606.7 L507.5,607.1 L508.3,607.5 L509.1,607.9 L510.0,608.3 L510.8,608.8 L511.6,609.2 L512.4,609.7 L513.2,610.2 L514.0,610.6 L514.8,611.1 L515.6,611.5 L516.4,611.9 L517.2,612.3 L518.0,612.6 L518.8,613.0 L519.6,613.3 L520.5,613.5 L521.3,613.8 L522.1,614.0 L522.9,614.2 L523.7,614.4 L524.5,614.5 L525.3,614.6 L526.1,614.8 L526.9,614.9 L527.7,614.9 L528.5,615.0 L529.3,615.1 L530.1,615.1 L530.9,615.1 L531.8,615.2 L532.6,615.2 L533.4,615.2 L534.2,615.2" fill="none" stroke="#4a663a" stroke-width="1.1" opacity="1" stroke-linejoin="round"/>
<path d="M471.1,615.2 L471.9,615.1 L472.7,615.1 L473.4,615.1 L474.2,615.0 L475.0,614.9 L475.7,614.8 L476.5,614.7 L477.3,614.5 L478.0,614.4 L478.8,614.2 L479.6,614.0 L480.4,613.7 L481.1,613.4 L481.9,613.0 L482.7,612.6 L483.4,612.1 L484.2,611.6 L485.0,611.1 L485.7,610.4 L486.5,609.8 L487.3,609.0 L488.0,608.2 L488.8,607.4 L489.6,606.5 L490.3,605.6 L491.1,604.7 L491.9,603.7 L492.7,602.7 L493.4,601.8 L494.2,600.8 L495.0,599.9 L495.7,599.1 L496.5,598.3 L497.3,597.6 L498.0,596.9 L498.8,596.4 L499.6,596.0 L500.3,595.7 L501.1,595.5 L501.9,595.4 L502.6,595.5 L503.4,595.7 L504.2,596.0 L505.0,596.4 L505.7,596.9 L506.5,597.6 L507.3,598.3 L508.0,599.1 L508.8,599.9 L509.6,600.8 L510.3,601.8 L511.1,602.7 L511.9,603.7 L512.6,604.7 L513.4,605.6 L514.2,606.5 L515.0,607.4 L515.7,608.2 L516.5,609.0 L517.3,609.8 L518.0,610.4 L518.8,611.1 L519.6,611.6 L520.3,612.1 L521.1,612.6 L521.9,613.0 L522.6,613.4 L523.4,613.7 L524.2,614.0 L524.9,614.2 L525.7,614.4 L526.5,614.5 L527.3,614.7 L528.0,614.8 L528.8,614.9 L529.6,615.0 L530.3,615.1 L531.1,615.1 L531.9,615.1 L532.6,615.2" fill="none" stroke="#2d5a31" stroke-width="1.4" opacity="1" stroke-linejoin="round"/>
<line x1="434.8" y1="640.0" x2="539.0" y2="640.0" stroke="#6a9660" stroke-width="1.5" />
<path d="M445.1,640.0 L445.8,640.0 L446.5,640.0 L447.2,639.9 L447.9,639.9 L448.6,639.9 L449.2,639.9 L449.9,639.9 L450.6,639.8 L451.3,639.8 L452.0,639.8 L452.7,639.7 L453.4,639.7 L454.1,639.6 L454.8,639.5 L455.5,639.4 L456.2,639.3 L456.9,639.2 L457.6,639.1 L458.2,639.0 L458.9,638.8 L459.6,638.7 L460.3,638.5 L461.0,638.3 L461.7,638.1 L462.4,638.0 L463.1,637.8 L463.8,637.6 L464.5,637.4 L465.2,637.1 L465.9,637.0 L466.5,636.8 L467.2,636.6 L467.9,636.4 L468.6,636.3 L469.3,636.1 L470.0,636.0 L470.7,635.9 L471.4,635.9 L472.1,635.8 L472.8,635.8 L473.5,635.8 L474.2,635.9 L474.9,635.9 L475.5,636.0 L476.2,636.1 L476.9,636.3 L477.6,636.4 L478.3,636.6 L479.0,636.8 L479.7,637.0 L480.4,637.1 L481.1,637.4 L481.8,637.6 L482.5,637.8 L483.2,638.0 L483.9,638.1 L484.5,638.3 L485.2,638.5 L485.9,638.7 L486.6,638.8 L487.3,639.0 L488.0,639.1 L488.7,639.2 L489.4,639.3 L490.1,639.4 L490.8,639.5 L491.5,639.6 L492.2,639.7 L492.8,639.7 L493.5,639.8 L494.2,639.8 L494.9,639.8 L495.6,639.9 L496.3,639.9 L497.0,639.9 L497.7,639.9 L498.4,639.9 L499.1,640.0 L499.8,640.0 L500.5,640.0" fill="none" stroke="#6fb84c" stroke-width="1.0" opacity="1" stroke-linejoin="round"/>
<path d="M446.2,640.0 L446.9,640.0 L447.6,639.9 L448.2,639.9 L448.9,639.9 L449.6,639.9 L450.2,639.9 L450.9,639.8 L451.6,639.8 L452.2,639.8 L452.9,639.7 L453.5,639.6 L454.2,639.6 L454.9,639.5 L455.5,639.4 L456.2,639.3 L456.9,639.2 L457.5,639.0 L458.2,638.9 L458.9,638.7 L459.5,638.6 L460.2,638.4 L460.8,638.2 L461.5,637.9 L462.2,637.7 L462.8,637.5 L463.5,637.2 L464.2,637.0 L464.8,636.7 L465.5,636.5 L466.1,636.2 L466.8,636.0 L467.5,635.8 L468.1,635.6 L468.8,635.4 L469.5,635.2 L470.1,635.1 L470.8,634.9 L471.5,634.9 L472.1,634.8 L472.8,634.8 L473.4,634.8 L474.1,634.9 L474.8,634.9 L475.4,635.1 L476.1,635.2 L476.8,635.4 L477.4,635.6 L478.1,635.8 L478.7,636.0 L479.4,636.2 L480.1,636.5 L480.7,636.7 L481.4,637.0 L482.1,637.2 L482.7,637.5 L483.4,637.7 L484.1,637.9 L484.7,638.2 L485.4,638.4 L486.0,638.6 L486.7,638.7 L487.4,638.9 L488.0,639.0 L488.7,639.2 L489.4,639.3 L490.0,639.4 L490.7,639.5 L491.3,639.6 L492.0,639.6 L492.7,639.7 L493.3,639.8 L494.0,639.8 L494.7,639.8 L495.3,639.9 L496.0,639.9 L496.7,639.9 L497.3,639.9 L498.0,639.9 L498.6,640.0 L499.3,640.0" fill="none" stroke="#58a83a" stroke-width="1.0" opacity="1" stroke-linejoin="round"/>
<path d="M447.4,640.0 L448.0,640.0 L448.7,639.9 L449.3,639.9 L449.9,639.9 L450.6,639.9 L451.2,639.8 L451.8,639.8 L452.5,639.8 L453.1,639.7 L453.7,639.7 L454.4,639.6 L455.0,639.5 L455.6,639.4 L456.3,639.3 L456.9,639.2 L457.6,639.0 L458.2,638.9 L458.8,638.7 L459.5,638.5 L460.1,638.3 L460.7,638.0 L461.4,637.8 L462.0,637.5 L462.6,637.3 L463.3,637.0 L463.9,636.7 L464.5,636.4 L465.2,636.1 L465.8,635.8 L466.4,635.5 L467.1,635.2 L467.7,634.9 L468.3,634.7 L469.0,634.5 L469.6,634.3 L470.2,634.1 L470.9,634.0 L471.5,633.9 L472.1,633.8 L472.8,633.8 L473.4,633.8 L474.0,633.9 L474.7,634.0 L475.3,634.1 L475.9,634.3 L476.6,634.5 L477.2,634.7 L477.9,634.9 L478.5,635.2 L479.1,635.5 L479.8,635.8 L480.4,636.1 L481.0,636.4 L481.7,636.7 L482.3,637.0 L482.9,637.3 L483.6,637.5 L484.2,637.8 L484.8,638.0 L485.5,638.3 L486.1,638.5 L486.7,638.7 L487.4,638.9 L488.0,639.0 L488.6,639.2 L489.3,639.3 L489.9,639.4 L490.5,639.5 L491.2,639.6 L491.8,639.7 L492.4,639.7 L493.1,639.8 L493.7,639.8 L494.3,639.8 L495.0,639.9 L495.6,639.9 L496.3,639.9 L496.9,639.9 L497.5,640.0 L498.2,640.0" fill="none" stroke="#7f9656" stroke-width="1.0" opacity="1" stroke-linejoin="round"/>
<path d="M447.4,640.0 L448.0,639.9 L448.7,639.9 L449.3,639.9 L449.9,639.9 L450.6,639.9 L451.2,639.8 L451.8,639.8 L452.5,639.7 L453.1,639.7 L453.7,639.6 L454.4,639.5 L455.0,639.4 L455.6,639.3 L456.3,639.2 L456.9,639.0 L457.6,638.9 L458.2,638.7 L458.8,638.5 L459.5,638.2 L460.1,638.0 L460.7,637.7 L461.4,637.4 L462.0,637.1 L462.6,636.8 L463.3,636.5 L463.9,636.2 L464.5,635.8 L465.2,635.5 L465.8,635.1 L466.4,634.8 L467.1,634.4 L467.7,634.1 L468.3,633.8 L469.0,633.6 L469.6,633.4 L470.2,633.2 L470.9,633.0 L471.5,632.9 L472.1,632.8 L472.8,632.8 L473.4,632.8 L474.0,632.9 L474.7,633.0 L475.3,633.2 L475.9,633.4 L476.6,633.6 L477.2,633.8 L477.9,634.1 L478.5,634.4 L479.1,634.8 L479.8,635.1 L480.4,635.5 L481.0,635.8 L481.7,636.2 L482.3,636.5 L482.9,636.8 L483.6,637.1 L484.2,637.4 L484.8,637.7 L485.5,638.0 L486.1,638.2 L486.7,638.5 L487.4,638.7 L488.0,638.9 L488.6,639.0 L489.3,639.2 L489.9,639.3 L490.5,639.4 L491.2,639.5 L491.8,639.6 L492.4,639.7 L493.1,639.7 L493.7,639.8 L494.3,639.8 L495.0,639.9 L495.6,639.9 L496.3,639.9 L496.9,639.9 L497.5,639.9 L498.2,640.0" fill="none" stroke="#6a8050" stroke-width="1.0" opacity="1" stroke-linejoin="round"/>
<path d="M448.6,639.9 L449.2,639.9 L449.8,639.9 L450.4,639.9 L451.0,639.8 L451.6,639.8 L452.2,639.8 L452.8,639.7 L453.4,639.6 L454.0,639.6 L454.6,639.5 L455.2,639.3 L455.8,639.2 L456.4,639.1 L457.0,638.9 L457.6,638.7 L458.2,638.5 L458.9,638.2 L459.5,638.0 L460.1,637.7 L460.7,637.3 L461.3,637.0 L461.9,636.6 L462.5,636.2 L463.1,635.8 L463.7,635.3 L464.3,634.9 L464.9,634.4 L465.5,633.9 L466.1,633.5 L466.7,633.0 L467.3,632.6 L467.9,632.2 L468.5,631.8 L469.1,631.4 L469.8,631.1 L470.4,630.9 L471.0,630.7 L471.6,630.5 L472.2,630.4 L472.8,630.4 L473.4,630.4 L474.0,630.5 L474.6,630.7 L475.2,630.9 L475.8,631.1 L476.4,631.4 L477.0,631.8 L477.6,632.2 L478.2,632.6 L478.8,633.0 L479.4,633.5 L480.0,633.9 L480.7,634.4 L481.3,634.9 L481.9,635.3 L482.5,635.8 L483.1,636.2 L483.7,636.6 L484.3,637.0 L484.9,637.3 L485.5,637.7 L486.1,638.0 L486.7,638.2 L487.3,638.5 L487.9,638.7 L488.5,638.9 L489.1,639.1 L489.7,639.2 L490.3,639.3 L490.9,639.5 L491.6,639.6 L492.2,639.6 L492.8,639.7 L493.4,639.8 L494.0,639.8 L494.6,639.8 L495.2,639.9 L495.8,639.9 L496.4,639.9 L497.0,639.9" fill="none" stroke="#4a663a" stroke-width="1.1" opacity="1" stroke-linejoin="round"/>
<path d="M449.7,639.9 L450.3,639.9 L450.9,639.8 L451.4,639.8 L452.0,639.7 L452.6,639.6 L453.2,639.5 L453.7,639.4 L454.3,639.3 L454.9,639.1 L455.5,638.9 L456.1,638.7 L456.6,638.5 L457.2,638.2 L457.8,637.8 L458.4,637.4 L458.9,637.0 L459.5,636.5 L460.1,636.0 L460.7,635.4 L461.2,634.7 L461.8,634.0 L462.4,633.3 L463.0,632.5 L463.6,631.6 L464.1,630.8 L464.7,629.9 L465.3,628.9 L465.9,628.0 L466.4,627.1 L467.0,626.2 L467.6,625.3 L468.2,624.5 L468.7,623.8 L469.3,623.1 L469.9,622.5 L470.5,621.9 L471.0,621.5 L471.6,621.2 L472.2,621.1 L472.8,621.0 L473.4,621.1 L473.9,621.2 L474.5,621.5 L475.1,621.9 L475.7,622.5 L476.2,623.1 L476.8,623.8 L477.4,624.5 L478.0,625.3 L478.5,626.2 L479.1,627.1 L479.7,628.0 L480.3,628.9 L480.9,629.9 L481.4,630.8 L482.0,631.6 L482.6,632.5 L483.2,633.3 L483.7,634.0 L484.3,634.7 L484.9,635.4 L485.5,636.0 L486.0,636.5 L486.6,637.0 L487.2,637.4 L487.8,637.8 L488.3,638.2 L488.9,638.5 L489.5,638.7 L490.1,638.9 L490.7,639.1 L491.2,639.3 L491.8,639.4 L492.4,639.5 L493.0,639.6 L493.5,639.7 L494.1,639.8 L494.7,639.8 L495.3,639.9 L495.8,639.9" fill="none" stroke="#2d5a31" stroke-width="1.4" opacity="1" stroke-linejoin="round"/>
<line x1="429.4" y1="539.5" x2="429.4" y2="643.6" stroke="#222" stroke-width="1.2" />
<line x1="428.8" y1="643.1" x2="539.0" y2="643.1" stroke="#222" stroke-width="1.2" />
<line x1="437.0" y1="643.1" x2="437.0" y2="645.3" stroke="#222" stroke-width="1.0" />
<text x="437.0" y="656.3" font-size="10.6" text-anchor="middle" fill="#111" font-weight="normal" font-style="normal" >780</text>
<line x1="463.7" y1="643.1" x2="463.7" y2="645.3" stroke="#222" stroke-width="1.0" />
<text x="463.7" y="656.3" font-size="10.6" text-anchor="middle" fill="#111" font-weight="normal" font-style="normal" >790</text>
<line x1="490.4" y1="643.1" x2="490.4" y2="645.3" stroke="#222" stroke-width="1.0" />
<text x="490.4" y="656.3" font-size="10.6" text-anchor="middle" fill="#111" font-weight="normal" font-style="normal" >800</text>
<line x1="517.1" y1="643.1" x2="517.1" y2="645.3" stroke="#222" stroke-width="1.0" />
<text x="517.1" y="656.3" font-size="10.6" text-anchor="middle" fill="#111" font-weight="normal" font-style="normal" >810</text>
<text x="487.3" y="669.8" font-size="11.0" text-anchor="middle" fill="#1a1a1a" font-weight="normal" font-style="normal" letter-spacing="0.66">Retention Time</text>
<text x="423.6" y="594.1" font-size="11.0" text-anchor="middle" fill="#111" font-weight="normal" font-style="normal" letter-spacing="0.3" transform="rotate(-90 423.6 594.1)">Intensity</text>
</svg></body></html>
